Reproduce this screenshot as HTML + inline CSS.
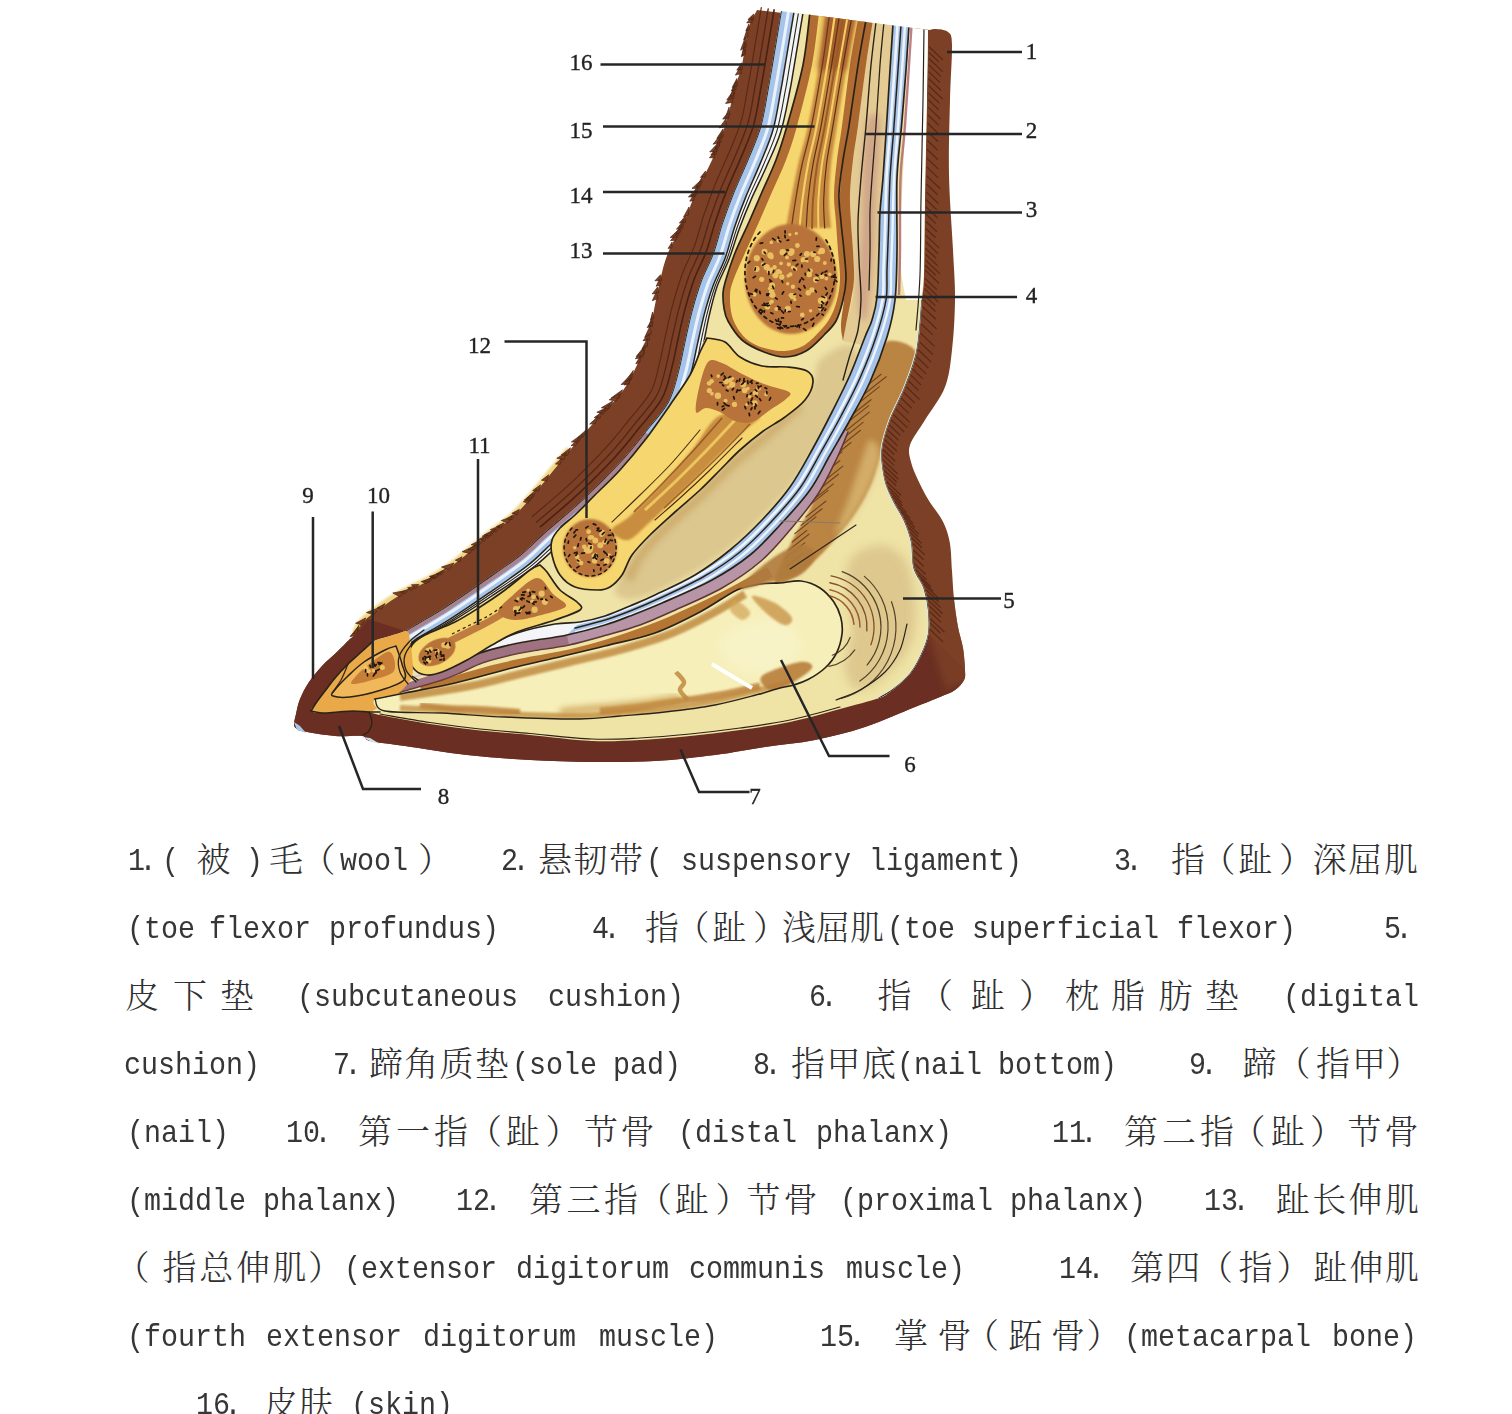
<!DOCTYPE html>
<html lang="zh-CN">
<head>
<meta charset="utf-8">
<title>牛蹄矢状切面</title>
<style>
html,body{margin:0;padding:0;background:#fff;}
body{width:1512px;height:1414px;position:relative;overflow:hidden;}
#fig{position:absolute;left:0;top:0;width:1512px;height:1414px;}
#legend{position:absolute;left:0;top:0;width:1512px;height:1414px;color:#303030;}
.ln{position:absolute;left:0;margin:0;width:1512px;height:0;}
.ln span{position:absolute;white-space:pre;line-height:40px;}
.a{color:#363636;font-family:"Liberation Mono",monospace;font-size:32px;top:-28.8px;transform:scaleX(0.8853);transform-origin:0 0;}
.a i{font-style:normal;margin-left:-0.19em;}
.a b{font-weight:normal;margin-left:0.19em;}
.c{font-weight:300;font-family:"Liberation Serif","Noto Serif CJK SC",serif;font-size:34px;top:-29.5px;}
</style>
</head>
<body>
<svg id="fig" viewBox="0 0 1512 1414" width="1512" height="1414">
<defs>
<filter id="b0" x="-20%" y="-20%" width="140%" height="140%"><feGaussianBlur stdDeviation="0.7"/></filter>
<filter id="b1" x="-20%" y="-20%" width="140%" height="140%"><feGaussianBlur stdDeviation="1.3"/></filter>
<filter id="b2" x="-30%" y="-30%" width="160%" height="160%"><feGaussianBlur stdDeviation="3"/></filter>
<filter id="b3" x="-30%" y="-30%" width="160%" height="160%"><feGaussianBlur stdDeviation="5"/></filter>
<filter id="b4" x="-40%" y="-40%" width="180%" height="180%"><feGaussianBlur stdDeviation="8"/></filter>
<filter id="bl" x="-5%" y="-5%" width="110%" height="110%"><feGaussianBlur stdDeviation="0.45"/></filter>
<filter id="ball" x="0" y="0" width="100%" height="100%" filterUnits="userSpaceOnUse"><feGaussianBlur stdDeviation="0.75"/></filter>
<clipPath id="cin"><path d="M781 11C779.5 20 774.2 52.2 772 65C769.8 77.8 769.9 77.8 768 88C766.1 98.2 763.9 114.2 760.6 126C757.3 137.8 752.5 148 748 159C743.5 170 738 181.4 733.7 192C729.4 202.6 725.9 212.3 722.4 222.6C718.9 232.8 716.6 243.8 713 253.5C709.4 263.2 704.5 271.6 701 281C697.5 290.4 694.7 300.2 692 310C689.3 319.8 687.3 329.7 685 340C682.7 350.3 680.8 361.7 678 372C675.2 382.3 673.5 392 668 402C662.5 412 653 422 645 432C637 442 630.5 450.7 620 462C609.5 473.3 594.5 488.3 582 500C569.5 511.7 555.3 522.8 545 532C534.7 541.2 530.5 546.7 520 555C509.5 563.3 494.5 573.3 482 582C469.5 590.7 455.3 600.3 445 607C434.7 613.7 426.7 618 420 622C413.3 626 410 628.7 405 631C400 633.3 395.5 634.2 390 636C384.5 637.8 377.2 639 372 642C366.8 645 363 650.3 359 654C355 657.7 352 660 348 664C344 668 338.8 673.5 335 678C331.2 682.5 328.2 686.8 325 691C321.8 695.2 318.3 699.7 316 703C313.7 706.3 310 709.3 311 711C312 712.7 317.5 712.8 322 713C326.5 713.2 332.8 712.3 338 712C343.2 711.7 347.8 711 353 711C358.2 711 364.5 711.3 369 712C373.5 712.7 369.8 713 380 715C390.2 717 413.3 721.4 430 724C446.7 726.6 463.3 728.7 480 730.5C496.7 732.3 511.3 733.2 530 735C548.7 736.8 573.7 740.2 592 741C610.3 741.8 623.7 740.8 640 740C656.3 739.2 673.3 737.7 690 736C706.7 734.3 723.3 732.3 740 730C756.7 727.7 773.3 725.5 790 722C806.7 718.5 825.2 713 840 709C854.8 705 870.2 701.2 879 698C887.8 694.8 887.8 693.5 893 689.5C898.2 685.5 905.3 679.6 910 674C914.7 668.4 917.9 662.3 921 655.6C924.1 648.9 927.2 641.6 928.5 634C929.8 626.4 929.2 617.7 928.5 610C927.8 602.3 926.4 595 924 588C921.6 581 916.1 575.7 914 568C911.9 560.3 913.1 549.8 911.5 542C909.9 534.2 907.6 528 904.5 521C901.4 514 896.2 506.8 893 500C889.8 493.2 886.8 488.3 885 480C883.2 471.7 881.2 460 882 450C882.8 440 886.2 430.5 890 420C893.8 409.5 900.5 398.7 905 387C909.5 375.3 914.2 364.5 917 350C919.8 335.5 920.8 312.5 922 300C923.2 287.5 923.5 291.7 924 275C924.5 258.3 924.5 229.2 925 200C925.5 170.8 926.5 128.3 927 100C927.5 71.7 927.8 41.7 928 30Z"/></clipPath>
</defs>
<g id="gall" filter="url(#ball)"><path d="M569.2 449.4C564.2 455.5 548.4 475.5 539.2 486.4C530.1 497.2 523.1 506 514.3 514.3C505.5 522.6 496 528.4 486.4 536.2C476.7 544 465.9 554 456.4 561.2C446.9 568.4 439 573.6 429.5 579.1C420 584.6 410.3 587.5 399.5 594.1C388.6 600.8 371.7 612.7 364.3 619.3C357 625.8 356.7 631.1 355.2 633.5" fill="none" stroke="#ecd070" stroke-width="7" filter="url(#b1)" opacity="0.85" stroke-linecap="butt"/>
<path d="M757 10C755.5 13.3 750.5 20.8 748 30C745.5 39.2 744.2 55.3 742 65C739.8 74.7 737.8 77.8 735 88C732.2 98.2 728.8 114.2 725 126C721.2 137.8 717.3 148 712.5 159C707.7 170 700.8 181.5 696 192C691.2 202.5 688.7 211.8 684 222C679.3 232.2 672 243.2 668 253C664 262.8 662.3 271.5 660 281C657.7 290.5 656 300.2 654 310C652 319.8 650.8 330.8 648 340C645.2 349.2 641.3 356.3 637 365C632.7 373.7 628.5 383.2 622 392C615.5 400.8 606.7 408.3 598 418C589.3 427.7 579.7 438.5 570 450C560.3 461.5 549.2 476.2 540 487C530.8 497.8 523.8 506.7 515 515C506.2 523.3 496.7 529.2 487 537C477.3 544.8 466.5 554.8 457 562C447.5 569.2 439.5 574.5 430 580C420.5 585.5 410.8 588.3 400 595C389.2 601.7 372.3 613.5 365 620C357.7 626.5 358.7 630.7 356 634C353.3 637.3 352 637.2 349 640C346 642.8 342.5 646.7 338 651C333.5 655.3 326.8 660.8 322 666C317.2 671.2 312.7 676.5 309 682C305.3 687.5 302.2 693.7 300 699C297.8 704.3 297 709.7 296 714C295 718.3 293.8 722.5 294 725C294.2 727.5 295.7 728 297 729C298.3 730 295.7 729.8 302 731C308.3 732.2 325 735.2 335 736C345 736.8 356.2 735.2 362 736C367.8 736.8 362.8 739.3 370 741C377.2 742.7 388.8 743.7 405 746C421.2 748.3 446.2 752.7 467 755C487.8 757.3 509.2 758.8 530 760C550.8 761.2 571.2 761.8 592 762C612.8 762.2 634.5 762.2 655 761C675.5 759.8 696.7 757.3 715 755C733.3 752.7 748.3 749.5 765 747C781.7 744.5 798.3 743.3 815 740C831.7 736.7 848.3 732.5 865 727C881.7 721.5 902.5 712 915 707C927.5 702 933.3 699.8 940 697C946.7 694.2 951 692.8 955 690C959 687.2 962.3 683.3 964 680C965.7 676.7 965.2 675.3 965 670C964.8 664.7 964.2 655.2 963 648C961.8 640.8 959.5 635.2 958 627C956.5 618.8 955 608.3 954 599C953 589.7 952.7 580.5 952 571C951.3 561.5 951.3 550.3 949.7 542C948.1 533.7 946.1 528 942.6 521C939.1 514 932.6 506.8 928.5 500C924.4 493.2 920.9 486.3 918 480C915.1 473.7 912.3 467.8 911 462C909.7 456.2 907.7 452 910 445C912.3 438 919.2 429.7 925 420C930.8 410.3 940.5 398.7 945 387C949.5 375.3 950.3 364.5 952 350C953.7 335.5 954.8 316.7 955 300C955.2 283.3 954 270.8 953 250C952 229.2 949.5 200 949 175C948.5 150 949.5 121.7 950 100C950.5 78.3 952.3 56.3 952 45C951.7 33.7 950.8 34.7 948 32C945.2 29.3 938 29.3 935 29C932 28.7 930.8 29.8 930 30Z" fill="#7c4025"/>
<path d="M753.6 14.1L747.9 19.6L753.5 20ZM752 17.1L746.7 22.8L752.1 22.9ZM748.9 24L745.8 30.9L749.6 29.8ZM747.5 27.8L743.6 40.1L748 36.6ZM745.4 37.1L740.6 50.2L746.5 46.4ZM744.6 42.5L741.9 56.1L745.7 51.8ZM743.8 47.9L741.4 56.7L745.4 54.4ZM741.5 62.8L736.8 70.2L742.6 69ZM740.7 66.6L735.4 75.1L741.3 73.6ZM736.9 78.5L732.2 87.4L737.2 85.7ZM735.8 81.8L731.3 91.1L736.2 89.2ZM734.5 85.8L730.1 96.9L734.9 94.1ZM733.3 90.5L726.8 99.9L733.9 98.1ZM731.9 95.7L725.5 103.4L732.9 102.4ZM729.1 107.1L725 118.7L729.5 115.6ZM727.7 112.9L722.7 119.1L728.7 118.5ZM726.2 118.5L719.2 127.9L726.5 126.3ZM723.1 128.8L716.8 138.4L723 136.7ZM721.5 133.6L713.1 144.2L720.9 142.4ZM719.8 138.3L715 148.9L719.4 146.4ZM718.1 142.9L709.7 151.9L717.5 151ZM716.3 147.5L710.9 155L716.2 154.2ZM714.4 152.1L709.4 157.7L714.7 157.8ZM705.5 171.1L700.5 177.4L705.2 177.1ZM703 175.8L696.2 187.1L701.2 184.7ZM700.5 180.6L692 188.4L699.5 188.2ZM698.1 185.2L691.1 196.3L696.7 194.1ZM695.9 189.8L688.4 196.9L695.6 196.7ZM693.9 194.2L689.8 201.2L694.1 200.4ZM689 207L683.6 216.9L688.6 214.9ZM685.8 215.5L679.4 223.1L685.4 222.5ZM684 219.8L676.5 229.3L682.8 228ZM681.9 224.2L675.8 234.2L680.4 232.3ZM679.6 228.6L670.1 237.6L677.8 237.1ZM677.1 233.1L670.5 240.6L676.1 240.2ZM672.1 242.1L668.1 248.4L672 247.9ZM660.5 274.8L654.9 280.8L661.7 280.3ZM659.5 278.8L656.2 286.3L660.6 284.9ZM657.6 287L652.2 293.9L658.9 292.9ZM656.7 291.1L652.3 300.7L657.8 298.5ZM652.5 312.1L650.6 320L654 318.2ZM651.8 316.5L648.9 326.9L653 324ZM651.1 320.9L647.2 327.5L652.6 326.4ZM650.3 325.3L644.6 337.5L651.1 334.2ZM648.7 333.8L643 340.7L649.6 339.9ZM647.7 337.8L642 349L647.4 346.4ZM645.2 345.2L636.2 356.5L643.9 354.6ZM643.8 348.7L635.3 358.8L642.5 357.4ZM640.6 355.6L635.8 363.8L639.9 362.5ZM633.3 370.4L625.1 381.6L631.5 379.5ZM631.4 374.2L621.1 384.6L629.3 383.5ZM629.4 378.2L624 384.9L628.6 384.5ZM622.5 389.8L611.2 397.9L619 398.3ZM619.6 393.6L609.2 399.8L616.4 401ZM613.2 400.8L601.3 407.8L608.9 408.8ZM609.7 404.4L601.6 410.9L606.6 411.1ZM606.1 408L596.9 412.2L603.4 414.4ZM602.3 411.8L594.2 417.6L599.7 418.4ZM598.6 415.8L589.7 424.1L595.1 423.5ZM587 428.9L577.8 437.7L583.3 436.8ZM582.9 433.5L571.4 441.9L578.8 442ZM578.8 438.1L571 445.7L575.9 445.3ZM570.5 447.8L561.1 455.1L567.5 455.4ZM566.3 452.9L556.8 458.2L563.9 459.8ZM561.9 458.3L555.4 464L560.2 464.4ZM548.7 474.8L541.5 480.2L546.9 481.1ZM540.5 484.8L532.6 490.6L538.3 491.4ZM536.7 489.3L526.5 498.2L533 497.7ZM533.1 493.7L524.3 500L530.4 500.7ZM529.7 497.8L523.3 501.7L528.2 503.3ZM519.4 509.3L511.9 513.3L517.1 515.1ZM515.8 512.9L506.5 518.9L512 519.7ZM512.1 516.4L501.4 520.5L508 523ZM504.3 522.7L496.4 526.6L501 528.3ZM500.3 525.7L490.2 529.7L496.1 531.9ZM496.2 528.7L484.2 534.9L490.7 536ZM492.1 531.7L482.2 536.2L488 538.1ZM487.9 535L478.4 539.4L484.2 541.3ZM483.7 538.4L471.2 544.7L478.5 546.1ZM479.4 542.1L468 549.8L474.2 549.8ZM475 545.8L462.2 551.7L469.8 553.5ZM462.1 556.8L455.3 560.2L459.5 562ZM454.1 563L441.5 567L448.8 569.9ZM446.5 568.4L436.2 574L441.4 574.8ZM442.8 570.9L430.4 577.2L436.5 577.9ZM439 573.4L429.4 576.4L434.6 579ZM435.2 575.8L423.6 581.3L429.2 582.2ZM431.3 578.2L421.1 581.6L426.2 583.8ZM419 584.4L411.4 584.8L415.4 588.7ZM414.7 586.3L407.5 587.7L411.2 590.7ZM410.3 588.3L400.6 592.4L405.1 593.8ZM405.8 590.5L392.8 593L399.9 596.8ZM385 603.6L377.2 607.9L381.5 609.2ZM379.5 607.5L366.5 612.5L373.8 614.8ZM365.7 617.9L355.6 623.3L362.2 624.9ZM358.8 625.3L353.8 633.9L358.1 632.5ZM357.7 627.3L350 636.6L357.2 635.4Z" fill="#7c4025" stroke="#4a2414" stroke-width="0.7"/>
<path d="M368 619C366 621.5 359.2 630.5 356 634C352.8 637.5 352 637.2 349 640C346 642.8 342.5 646.7 338 651C333.5 655.3 326.8 660.8 322 666C317.2 671.2 312.7 676.5 309 682C305.3 687.5 302.2 693.7 300 699C297.8 704.3 297 709.7 296 714C295 718.3 293.8 722.5 294 725C294.2 727.5 295.7 728 297 729C298.3 730 295.7 729.8 302 731C308.3 732.2 325 735.2 335 736C345 736.8 356.2 735.2 362 736C367.8 736.8 362.8 739.3 370 741C377.2 742.7 388.8 743.7 405 746C421.2 748.3 446.2 752.7 467 755C487.8 757.3 509.2 758.8 530 760C550.8 761.2 571.2 761.8 592 762C612.8 762.2 634.5 762.2 655 761C675.5 759.8 696.7 757.3 715 755C733.3 752.7 748.3 749.5 765 747C781.7 744.5 798.3 743.3 815 740C831.7 736.7 848.3 732.5 865 727C881.7 721.5 902.5 712 915 707C927.5 702 933.3 699.8 940 697C946.7 694.2 951 692.8 955 690C959 687.2 962.3 683.3 964 680C965.7 676.7 964.8 671.7 965 670L928.5 634C927.2 637.6 924.1 648.9 921 655.6C917.9 662.3 914.7 668.4 910 674C905.3 679.6 898.2 685.5 893 689.5C887.8 693.5 887.8 694.8 879 698C870.2 701.2 854.8 705 840 709C825.2 713 806.7 718.5 790 722C773.3 725.5 756.7 727.7 740 730C723.3 732.3 706.7 734.3 690 736C673.3 737.7 656.3 739.2 640 740C623.7 740.8 610.3 741.8 592 741C573.7 740.2 548.7 736.8 530 735C511.3 733.2 496.7 732.3 480 730.5C463.3 728.7 446.7 726.6 430 724C413.3 721.4 390.2 717 380 715C369.8 713 373.5 712.7 369 712C364.5 711.3 358.2 711 353 711C347.8 711 343.2 711.7 338 712C332.8 712.3 326.5 713.2 322 713C317.5 712.8 312 712.7 311 711C310 709.3 313.7 706.3 316 703C318.3 699.7 321.8 695.2 325 691C328.2 686.8 331.2 682.5 335 678C338.8 673.5 344 668 348 664C352 660 355 657.7 359 654C363 650.3 366.8 645 372 642C377.2 639 384.5 637.8 390 636C395.5 634.2 402.5 631.8 405 631Z" fill="#6a2f22"/>
<clipPath id="csil"><path d="M757 10C755.5 13.3 750.5 20.8 748 30C745.5 39.2 744.2 55.3 742 65C739.8 74.7 737.8 77.8 735 88C732.2 98.2 728.8 114.2 725 126C721.2 137.8 717.3 148 712.5 159C707.7 170 700.8 181.5 696 192C691.2 202.5 688.7 211.8 684 222C679.3 232.2 672 243.2 668 253C664 262.8 662.3 271.5 660 281C657.7 290.5 656 300.2 654 310C652 319.8 650.8 330.8 648 340C645.2 349.2 641.3 356.3 637 365C632.7 373.7 628.5 383.2 622 392C615.5 400.8 606.7 408.3 598 418C589.3 427.7 579.7 438.5 570 450C560.3 461.5 549.2 476.2 540 487C530.8 497.8 523.8 506.7 515 515C506.2 523.3 496.7 529.2 487 537C477.3 544.8 466.5 554.8 457 562C447.5 569.2 439.5 574.5 430 580C420.5 585.5 410.8 588.3 400 595C389.2 601.7 372.3 613.5 365 620C357.7 626.5 358.7 630.7 356 634C353.3 637.3 352 637.2 349 640C346 642.8 342.5 646.7 338 651C333.5 655.3 326.8 660.8 322 666C317.2 671.2 312.7 676.5 309 682C305.3 687.5 302.2 693.7 300 699C297.8 704.3 297 709.7 296 714C295 718.3 293.8 722.5 294 725C294.2 727.5 295.7 728 297 729C298.3 730 295.7 729.8 302 731C308.3 732.2 325 735.2 335 736C345 736.8 356.2 735.2 362 736C367.8 736.8 362.8 739.3 370 741C377.2 742.7 388.8 743.7 405 746C421.2 748.3 446.2 752.7 467 755C487.8 757.3 509.2 758.8 530 760C550.8 761.2 571.2 761.8 592 762C612.8 762.2 634.5 762.2 655 761C675.5 759.8 696.7 757.3 715 755C733.3 752.7 748.3 749.5 765 747C781.7 744.5 798.3 743.3 815 740C831.7 736.7 848.3 732.5 865 727C881.7 721.5 902.5 712 915 707C927.5 702 933.3 699.8 940 697C946.7 694.2 951 692.8 955 690C959 687.2 962.3 683.3 964 680C965.7 676.7 965.2 675.3 965 670C964.8 664.7 964.2 655.2 963 648C961.8 640.8 959.5 635.2 958 627C956.5 618.8 955 608.3 954 599C953 589.7 952.7 580.5 952 571C951.3 561.5 951.3 550.3 949.7 542C948.1 533.7 946.1 528 942.6 521C939.1 514 932.6 506.8 928.5 500C924.4 493.2 920.9 486.3 918 480C915.1 473.7 912.3 467.8 911 462C909.7 456.2 907.7 452 910 445C912.3 438 919.2 429.7 925 420C930.8 410.3 940.5 398.7 945 387C949.5 375.3 950.3 364.5 952 350C953.7 335.5 954.8 316.7 955 300C955.2 283.3 954 270.8 953 250C952 229.2 949.5 200 949 175C948.5 150 949.5 121.7 950 100C950.5 78.3 952.3 56.3 952 45C951.7 33.7 950.8 34.7 948 32C945.2 29.3 938 29.3 935 29C932 28.7 930.8 29.8 930 30Z"/></clipPath>
<g clip-path="url(#csil)">
<path d="M975 680C974.2 674.7 971.7 656.8 970 648C968.3 639.2 966.7 635.2 965 627C963.3 618.8 960.8 603.7 960 599L928 600L930 640L945 690Z" fill="#7c4025" filter="url(#b2)" opacity="0.8"/>
</g>
<path d="M774.1 9.8C772.6 18.8 767.3 51 765.1 63.8C762.9 76.6 763 76.7 761.1 86.7C759.2 96.8 757.1 112.5 753.9 124.1C750.6 135.7 746 145.5 741.5 156.4C737.1 167.2 731.5 178.7 727.2 189.4C722.9 200.1 719.2 210.1 715.8 220.4C712.3 230.7 710 241.4 706.4 251.1C702.9 260.8 698 269 694.4 278.6C690.9 288.1 688 298.2 685.2 308.2C682.5 318.2 680.5 328.1 678.2 338.5C675.8 348.8 674 360.1 671.2 370.1C668.5 380.2 667.2 389 661.9 398.6C656.6 408.2 647.4 417.9 639.5 427.6C631.7 437.4 625.3 446 614.9 457.2C604.5 468.5 589.6 483.3 577.2 494.9C564.8 506.5 546.6 521.4 540.4 526.7" fill="none" stroke="#4a2112" stroke-width="1.6" stroke-linecap="round"/>
<path d="M768.2 8.9C766.7 17.9 761.3 50 759.2 62.8C757 75.6 757.1 75.7 755.2 85.6C753.4 95.6 751.3 111.1 748.1 122.5C744.9 133.9 740.4 143.3 736 154.1C731.6 164.9 726 176.4 721.6 187.1C717.3 197.9 713.6 208.1 710.1 218.5C706.6 228.8 704.3 239.4 700.8 249C697.2 258.7 692.4 266.9 688.8 276.5C685.3 286.1 682.2 296.5 679.5 306.6C676.7 316.7 674.7 326.8 672.3 337.1C670 347.5 668.1 358.8 665.5 368.6C662.8 378.3 661.7 386.5 656.6 395.7C651.5 405 642.5 414.3 634.8 423.9C627.2 433.5 620.8 442.1 610.5 453.2C600.2 464.3 585.5 479 573.1 490.5C560.8 502 542.6 516.9 536.5 522.2" fill="none" stroke="#56281a" stroke-width="1.4" stroke-linecap="round"/>
<path d="M761.3 7.7C759.8 16.7 754.4 48.9 752.3 61.7C750.1 74.4 750.2 74.5 748.3 84.3C746.5 94.1 744.5 109.4 741.3 120.6C738.2 131.8 733.8 140.8 729.5 151.5C725.1 162.1 719.5 173.7 715.1 184.5C710.8 195.3 706.9 205.9 703.4 216.2C700 226.6 697.8 237 694.2 246.6C690.7 256.3 685.8 264.3 682.3 274C678.7 283.7 675.5 294.5 672.7 304.8C669.9 315 667.8 325.3 665.5 335.6C663.2 345.9 661.2 357.3 658.7 366.7C656.2 376.2 655.4 383.6 650.5 392.4C645.6 401.2 636.9 410.2 629.4 419.5C621.9 428.8 615.5 437.4 605.3 448.4C595.2 459.4 580.6 474 568.4 485.4C556.1 496.8 538 511.6 531.9 516.9" fill="none" stroke="#5a2a18" stroke-width="1.2" stroke-linecap="round"/>
<path d="M929.3 47l13.3 12.6M929.2 52.7l9.3 8.9M929.1 58.8l13.3 12.6M929 65.2l11.3 10.7M928.9 71.9l10.7 10.2M928.8 78.8l11.8 11.2M928.7 85.8l13.6 13M928.6 92.9l10.3 9.8M928.5 100l9.6 9.2M928.4 107.4l11.6 11.1M928.2 115.2l10.2 9.7M928 123.5l9.5 9.1M927.9 132l9.8 9.3M927.7 140.8l9.3 8.8M927.5 149.7l10 9.5M927.3 158.6l10.6 10M927.1 167.4l10.5 10M927 176.1l12.8 12.2M926.8 184.4l10.4 9.9M926.6 192.4l11.5 10.9M926.5 200l9.9 9.4M926.4 207.3l10.7 10.2M926.3 214.5l9.1 8.6M926.2 221.7l10.3 9.7M926.1 228.7l9.1 8.6M926.1 235.6l12.7 12M926 242.2l11.8 11.2M925.9 248.6l9.9 9.4M925.9 254.6l11.4 10.8M925.8 260.4l13.7 13M925.7 265.7l9.5 9.1M925.6 270.6l13.1 12.4M925.4 278.8l11.2 10.6M925.1 284.2l11.5 10.9M924.8 289.1l13.2 12.5M924 295l11 10.4M923.5 300l11.5 11M922.9 307l12.4 11.8M922.3 315.3l13.9 13.2M921.6 324.2l10.7 10.2M920.8 333.4l13.2 12.5M919.8 342.1l12.5 11.9M918.5 350l12.2 11.6M916.9 357l11 10.5M915.1 363.4l10.7 10.2M913.1 369.6l9.3 8.8M911 375.4l9.6 9.2M908.8 381.2l9.4 8.9M906.5 387l12.7 12.1M904.1 392.8l10.3 9.8M901.5 398.4l9.8 9.3M898.8 403.9l9.4 9M896.1 409.4l13.2 12.5M893.6 414.7l13.4 12.7M891.5 420l12.4 11.7M889.6 425.2l10.4 9.9M887.9 430.2l10.2 9.7M886.4 435.2l10.5 9.9M885.1 440.1l11.3 10.7M884.1 445l9.8 9.3M883.5 450l11.2 10.7M883.3 455.1l10.3 9.8M883.5 460.4l13.8 13.1M884 465.6l13.9 13.2M884.7 470.7l11.7 11.1M885.6 475.6l10.2 9.7M887 482l13.8 13.1M888.7 487.4l10.5 10M890.7 492.1l10.8 10.2M892.9 496.7l9 8.6M895.4 501.7l10.9 10.4M898.2 506.9l11.4 10.8M901.4 512.2l11.5 10.9M904.3 517.5l10 9.5M906.8 522.7l11.5 10.9M908.8 527.8l9 8.6M910.6 532.9l10.3 9.8M912.1 538.2l9.4 9M913.3 544l11 10.4M913.9 550.5l9.2 8.7M914.2 557.3l9.1 8.7M914.7 564l10.5 10M916.1 569.9l10.2 9.7M918.5 575l11.9 11.3M921.3 579.8l11.6 11.1M924.1 584.6l12.8 12.1M926.1 589.8l12.3 11.7M927.6 595.1l12.6 12M928.7 600.6l13.4 12.7M929.6 606.2l10.9 10.4M930.2 612l10.6 10.1M930.3 618.7l13.9 13.2M930.3 623.4l9.7 9.3M930.1 629.6l12.6 12" fill="none" stroke="#4a2012" stroke-width="1.3" opacity="0.7" stroke-linecap="round"/>
<path d="M781 11C779.5 20 774.2 52.2 772 65C769.8 77.8 769.9 77.8 768 88C766.1 98.2 763.9 114.2 760.6 126C757.3 137.8 752.5 148 748 159C743.5 170 738 181.4 733.7 192C729.4 202.6 725.9 212.3 722.4 222.6C718.9 232.8 716.6 243.8 713 253.5C709.4 263.2 704.5 271.6 701 281C697.5 290.4 694.7 300.2 692 310C689.3 319.8 687.3 329.7 685 340C682.7 350.3 680.8 361.7 678 372C675.2 382.3 673.5 392 668 402C662.5 412 653 422 645 432C637 442 630.5 450.7 620 462C609.5 473.3 594.5 488.3 582 500C569.5 511.7 555.3 522.8 545 532C534.7 541.2 530.5 546.7 520 555C509.5 563.3 494.5 573.3 482 582C469.5 590.7 455.3 600.3 445 607C434.7 613.7 426.7 618 420 622C413.3 626 410 628.7 405 631C400 633.3 395.5 634.2 390 636C384.5 637.8 377.2 639 372 642C366.8 645 363 650.3 359 654C355 657.7 352 660 348 664C344 668 338.8 673.5 335 678C331.2 682.5 328.2 686.8 325 691C321.8 695.2 318.3 699.7 316 703C313.7 706.3 310 709.3 311 711C312 712.7 317.5 712.8 322 713C326.5 713.2 332.8 712.3 338 712C343.2 711.7 347.8 711 353 711C358.2 711 364.5 711.3 369 712C373.5 712.7 369.8 713 380 715C390.2 717 413.3 721.4 430 724C446.7 726.6 463.3 728.7 480 730.5C496.7 732.3 511.3 733.2 530 735C548.7 736.8 573.7 740.2 592 741C610.3 741.8 623.7 740.8 640 740C656.3 739.2 673.3 737.7 690 736C706.7 734.3 723.3 732.3 740 730C756.7 727.7 773.3 725.5 790 722C806.7 718.5 825.2 713 840 709C854.8 705 870.2 701.2 879 698C887.8 694.8 887.8 693.5 893 689.5C898.2 685.5 905.3 679.6 910 674C914.7 668.4 917.9 662.3 921 655.6C924.1 648.9 927.2 641.6 928.5 634C929.8 626.4 929.2 617.7 928.5 610C927.8 602.3 926.4 595 924 588C921.6 581 916.1 575.7 914 568C911.9 560.3 913.1 549.8 911.5 542C909.9 534.2 907.6 528 904.5 521C901.4 514 896.2 506.8 893 500C889.8 493.2 886.8 488.3 885 480C883.2 471.7 881.2 460 882 450C882.8 440 886.2 430.5 890 420C893.8 409.5 900.5 398.7 905 387C909.5 375.3 914.2 364.5 917 350C919.8 335.5 920.8 312.5 922 300C923.2 287.5 923.5 291.7 924 275C924.5 258.3 924.5 229.2 925 200C925.5 170.8 926.5 128.3 927 100C927.5 71.7 927.8 41.7 928 30Z" fill="#efe3a6"/>
<g clip-path="url(#cin)">
<path d="M909 24C908.5 36.7 907 74.8 906 100C905 125.2 904 153.3 903 175C902 196.7 900.3 214.2 900 230C899.7 245.8 900 258.3 901 270C902 281.7 905.2 295 906 300L921 300C921.5 295 923.3 286.7 924 270C924.7 253.3 924.5 228.3 925 200C925.5 171.7 926.3 128.7 927 100C927.7 71.3 928.7 40 929 28Z" fill="#ffffff"/>
<path d="M850 345C856.7 346.7 861.7 359.2 860 370C858.3 380.8 847.5 396.7 840 410C832.5 423.3 823.3 437.2 815 450C806.7 462.8 799.2 475.3 790 487C780.8 498.7 770 509.8 760 520C750 530.2 741.7 538.8 730 548C718.3 557.2 705 566.7 690 575C675 583.3 652.5 595.2 640 598C627.5 600.8 616.7 598.3 615 592C613.3 585.7 622.5 571.2 630 560C637.5 548.8 648.3 536.7 660 525C671.7 513.3 686.7 502.5 700 490C713.3 477.5 725.8 462.2 740 450C754.2 437.8 773 427.8 785 417C797 406.2 806.2 394.5 812 385C817.8 375.5 813.7 366.7 820 360C826.3 353.3 843.3 343.3 850 345Z" fill="#dcc78e" filter="url(#b2)"/>
<path d="M850 560C855.3 551.7 870.8 545 880 545C889.2 545 899.2 550.8 905 560C910.8 569.2 913.8 586.7 915 600C916.2 613.3 916.2 628 912 640C907.8 652 898.7 663.7 890 672C881.3 680.3 867.5 690.3 860 690C852.5 689.7 846.3 680 845 670C843.7 660 851.5 642.5 852 630C852.5 617.5 848.3 606.7 848 595C847.7 583.3 844.7 568.3 850 560Z" fill="#dcc58c" filter="url(#b3)" opacity="0.9"/>
<path d="M800 405C795 409.5 780.8 422.5 770 432C759.2 441.5 746.7 451.3 735 462C723.3 472.7 711.7 485 700 496C688.3 507 675 518 665 528C655 538 646.2 547.3 640 556C633.8 564.7 630 576 628 580" fill="none" stroke="#c9a463" stroke-width="10" filter="url(#b2)" opacity="0.7"/>
<path d="M886 342C894.3 338.2 912.3 344.3 916 352C919.7 359.7 911.8 376.7 908 388C904.2 399.3 897.3 409.7 893 420C888.7 430.3 885.5 439.7 882 450C878.5 460.3 876.3 471.7 872 482C867.7 492.3 863 501.5 856 512C849 522.5 838.7 535.3 830 545C821.3 554.7 813.2 563.3 804 570C794.8 576.7 777.3 589.2 775 585C772.7 580.8 783.8 558.3 790 545C796.2 531.7 805.7 519.2 812 505C818.3 490.8 822 475.5 828 460C834 444.5 841.7 426.2 848 412C854.3 397.8 859.7 386.7 866 375C872.3 363.3 877.7 345.8 886 342Z" fill="#b67c3a" filter="url(#b1)" opacity="0.92"/>
<path d="M870 440C873.3 438.3 880.3 446.7 880 455C879.7 463.3 873 479.2 868 490C863 500.8 855.5 512.5 850 520C844.5 527.5 835.3 538.3 835 535C834.7 531.7 843.8 511.7 848 500C852.2 488.3 856.3 475 860 465C863.7 455 866.7 441.7 870 440Z" fill="#d9b872" filter="url(#b2)" opacity="0.8"/>
<path d="M858.9 392l22.2 -17.7M856.4 400.3l29.7 -23.6M851.6 408.7l27.8 -22.1M849.2 417l21.8 -17.3M843.9 425.3l24.8 -19.7M842.2 433.7l27.1 -21.6M838.5 442l24.6 -19.6M835.4 450.3l25.1 -20M830.6 458.7l20.4 -16.2M823 467l19.1 -15.2M821.4 475.3l18.4 -14.6M820.7 483.7l22.2 -17.6M815.9 492l22.4 -17.8M812.7 500.3l20.6 -16.4M805 508.7l23.1 -18.3M805.9 517l19.9 -15.8M801.1 525.3l20.9 -16.6M794.7 533.7l21.2 -16.8M792.2 542l14.5 -11.5M788.7 550.3l20.2 -16.1M784.8 558.7l19.9 -15.8M785.9 567l17.1 -13.6" fill="none" stroke="#5e3418" stroke-width="1.1" opacity="0.8" stroke-linecap="round"/>
<path d="M873 20C871.8 27.5 868.5 47.3 866 65C863.5 82.7 860.2 110.2 858 126C855.8 141.8 854.3 148.7 853 160C851.7 171.3 850.3 183.7 850 194C849.7 204.3 850.5 212.5 851 222C851.5 231.5 852.5 241.5 853 251C853.5 260.5 854.2 270.8 854 279C853.8 287.2 853.3 292.3 852 300C850.7 307.7 847.5 318.2 846 325C844.5 331.8 843.5 338.3 843 341L862 345C863.7 340.8 869.5 328 872 320C874.5 312 875.8 308.7 877 297C878.2 285.3 878.5 264.2 879 250C879.5 235.8 879.2 224 880 212C880.8 200 882.7 192.3 884 178C885.3 163.7 886.5 151.7 888 126C889.5 100.3 892.2 41 893 24Z" fill="#e4cb94"/>
<path d="M862 20C861 27.5 858.3 47.3 856 65C853.7 82.7 850.2 110.2 848 126C845.8 141.8 844.3 148.7 843 160C841.7 171.3 840.3 183.7 840 194C839.7 204.3 840.3 212.5 841 222C841.7 231.5 843.2 241.5 844 251C844.8 260.5 846 270.8 846 279C846 287.2 844.8 292.3 844 300C843.2 307.7 841.2 318.2 841 325C840.8 331.8 842.7 338.3 843 341L843 341C843.5 338.3 844.7 331.8 846 325C847.3 318.2 849.7 307.7 851 300C852.3 292.3 853.7 287.2 854 279C854.3 270.8 853.5 260.5 853 251C852.5 241.5 851.5 231.5 851 222C850.5 212.5 849.7 204.3 850 194C850.3 183.7 851.7 171.3 853 160C854.3 148.7 855.8 141.8 858 126C860.2 110.2 863.5 82.7 866 65C868.5 47.3 871.8 27.5 873 20Z" fill="#a9662e"/>
<path d="M868 120C870.8 113.7 878.7 108.7 880 122C881.3 135.3 877.3 175.3 876 200C874.7 224.7 873.7 250 872 270C870.3 290 868.3 315 866 320C863.7 325 858.7 316.7 858 300C857.3 283.3 861.2 243.3 862 220C862.8 196.7 862 176.7 863 160C864 143.3 865.2 126.3 868 120Z" fill="#c99a86" filter="url(#b2)" opacity="0.75"/>
<path d="M876 22C875.2 29.2 872.7 47.7 871 65C869.3 82.3 867.7 107.2 866 126C864.3 144.8 862.3 162 861 178C859.7 194 858.3 208.3 858 222C857.7 235.7 858.5 247 859 260C859.5 273 861.2 288.3 861 300C860.8 311.7 859.8 320.8 858 330C856.2 339.2 852.5 346.7 850 355C847.5 363.3 844.2 375.8 843 380" fill="none" stroke="#2b2418" stroke-width="1.4" stroke-linecap="round"/>
<path d="M884 22C883.3 29.2 881.3 47.7 880 65C878.7 82.3 877.3 107.2 876 126C874.7 144.8 873 163.7 872 178C871 192.3 870.3 200 870 212C869.7 224 870.2 237 870 250C869.8 263 869.2 283.3 869 290" fill="none" stroke="#2b2418" stroke-width="1.3" stroke-linecap="round"/>
<path d="M770 572C762 576.3 738.2 589.8 722 598C705.8 606.2 686.7 615 673 621C659.3 627 651 630 640 634C629 638 618.8 641.5 607 645C595.2 648.5 581.5 652.2 569 655C556.5 657.8 544.3 659.5 532 662C519.7 664.5 507.7 666.8 495 670C482.3 673.2 468.3 677.7 456 681C443.7 684.3 426.8 688.5 421 690" fill="none" stroke="#b47632" stroke-width="11" filter="url(#b0)"/>
<path d="M845 430C842.5 434.2 835.8 445 830 455C824.2 465 818.3 478.3 810 490C801.7 501.7 790 514.2 780 525C770 535.8 761.3 545.8 750 555C738.7 564.2 726.7 572 712 580C697.3 588 675.7 597 662 603C648.3 609 639.5 612.3 630 616C620.5 619.7 615.5 621.8 605 625C594.5 628.2 579.5 632.3 567 635C554.5 637.7 540.3 639.2 530 641C519.7 642.8 513.3 644 505 646C496.7 648 487.5 650.2 480 653C472.5 655.8 466.7 659.8 460 663C453.3 666.2 448.3 668.8 440 672C431.7 675.2 419.2 679 410 682C400.8 685 389.2 688.7 385 690L372 700C374.2 699.5 378.5 698.8 385 697C391.5 695.2 401.5 691.8 411 689C420.5 686.2 433.5 682.8 442 680C450.5 677.2 455.3 674.8 462 672C468.7 669.2 474.5 665.7 482 663C489.5 660.3 498.7 658 507 656C515.3 654 521.7 652.8 532 651C542.3 649.2 556.5 647.7 569 645C581.5 642.3 595.2 638.3 607 635C618.8 631.7 629 629 640 625C651 621 659.3 617.2 673 611C686.7 604.8 707.3 596.3 722 588C736.7 579.7 749.7 570.7 761 561C772.3 551.3 780.5 541.2 790 530C799.5 518.8 810.2 506 818 494C825.8 482 832 468.3 837 458C842 447.7 846.2 436.3 848 432Z" fill="#b795a6"/>
<path d="M777.5 522.5C772.6 527.5 759 543.2 747.8 552.3C736.6 561.3 724.9 569 710.3 576.9C695.8 584.8 674.2 593.8 660.6 599.8C647 605.8 638.2 609.1 628.7 612.7C619.3 616.4 614.4 618.5 604 621.6C593.6 624.8 578.7 628.9 566.3 631.6C553.8 634.2 539.7 635.7 529.4 637.6C519 639.4 512.6 640.6 504.2 642.6C495.7 644.6 486.4 646.9 478.8 649.7C471.1 652.6 465.2 656.7 458.5 659.8C451.8 663 447 665.6 438.8 668.7C430.5 671.9 418 675.7 408.9 678.7C399.8 681.7 388.1 685.3 383.9 686.7" fill="none" stroke="#d9c3cf" stroke-width="2.2" stroke-linecap="round"/>
<path d="M848 432C846.2 436.3 842 447.7 837 458C832 468.3 825.8 482 818 494C810.2 506 799.5 518.8 790 530C780.5 541.2 772.3 551.3 761 561C749.7 570.7 736.7 579.7 722 588C707.3 596.3 686.7 604.8 673 611C659.3 617.2 651 621 640 625C629 629 618.8 631.7 607 635C595.2 638.3 581.5 642.3 569 645C556.5 647.7 542.3 649.2 532 651C521.7 652.8 515.3 654 507 656C498.7 658 489.5 660.3 482 663C474.5 665.7 468.7 669.2 462 672C455.3 674.8 450.5 677.2 442 680C433.5 682.8 420.5 686.2 411 689C401.5 691.8 391.5 695.2 385 697C378.5 698.8 374.2 699.5 372 700" fill="none" stroke="#5e3434" stroke-width="1.5" stroke-linecap="round"/>
<path d="M567 635C560.8 636 540.3 639.2 530 641C519.7 642.8 513.3 644 505 646C496.7 648 487.5 650.2 480 653C472.5 655.8 466.7 659.8 460 663C453.3 666.2 448.3 668.8 440 672C431.7 675.2 419.2 679 410 682C400.8 685 389.2 688.7 385 690L372 700C374.2 699.5 378.5 698.8 385 697C391.5 695.2 401.5 691.8 411 689C420.5 686.2 433.5 682.8 442 680C450.5 677.2 455.3 674.8 462 672C468.7 669.2 474.5 665.7 482 663C489.5 660.3 498.7 658 507 656C515.3 654 521.7 652.8 532 651C542.3 649.2 562.8 646 569 645Z" fill="#8a5560" opacity="0.55"/>
<path d="M893 24C892.5 31.7 891.1 53 890 70C888.9 87 887.7 108 886.5 126C885.3 144 884.1 163.7 883 178C881.9 192.3 880.7 200 880 212C879.3 224 879.5 235.8 879 250C878.5 264.2 878.2 285.3 877 297C875.8 308.7 874 313.3 872 320C870 326.7 868.7 327.8 865 337C861.3 346.2 855.5 362.5 850 375C844.5 387.5 838.3 399.5 832 412C825.7 424.5 819 437.5 812 450C805 462.5 798.3 475.3 790 487C781.7 498.7 772 509.5 762 520C752 530.5 741.2 540.8 730 550C718.8 559.2 707.5 567.5 695 575C682.5 582.5 665.8 589.8 655 595C644.2 600.2 638.3 602.5 630 606C621.7 609.5 613.3 613.3 605 616C596.7 618.7 588.3 620.7 580 622C571.7 623.3 565.5 622.2 555 624C544.5 625.8 529.5 629 517 633C504.5 637 490.3 643.5 480 648C469.7 652.5 461.7 656.3 455 660C448.3 663.7 442.5 668.3 440 670L440 672C443.3 670.5 453.3 666.2 460 663C466.7 659.8 472.5 655.8 480 653C487.5 650.2 496.7 648 505 646C513.3 644 519.7 642.8 530 641C540.3 639.2 554.5 637.7 567 635C579.5 632.3 594.5 628.2 605 625C615.5 621.8 620.5 619.7 630 616C639.5 612.3 648.3 609 662 603C675.7 597 697.3 588 712 580C726.7 572 738.7 564.2 750 555C761.3 545.8 770 535.8 780 525C790 514.2 801.7 501.7 810 490C818.3 478.3 823.3 466.7 830 455C836.7 443.3 843.3 432.2 850 420C856.7 407.8 863.8 395.8 870 382C876.2 368.2 882.8 350.7 887 337C891.2 323.3 893.3 314.5 895 300C896.7 285.5 896.7 270.3 897 250C897.3 229.7 896.2 198.7 897 178C897.8 157.3 900 144 901.5 126C903 108 904.8 86.7 906 70C907.2 53.3 908.5 33.3 909 26Z" fill="#a6c4ea"/>
<path d="M580 622C575.8 622.3 565.5 622.2 555 624C544.5 625.8 529.5 629 517 633C504.5 637 490.3 643.5 480 648C469.7 652.5 461.7 656.3 455 660C448.3 663.7 442.5 668.3 440 670L440 672C443.3 670.5 453.3 666.2 460 663C466.7 659.8 472.5 655.8 480 653C487.5 650.2 496.7 648 505 646C513.3 644 519.7 642.8 530 641C540.3 639.2 560.8 636 567 635Z" fill="#f3f5f8"/>
<path d="M897.5 24.8C897 32.3 895.7 52.9 894.5 69.8C893.3 86.6 891.8 107.7 890.5 125.7C889.2 143.8 887.4 160.5 886.5 177.8C885.6 195.2 885.5 214.5 885 229.9C884.5 245.2 883.9 258.3 883.5 269.9C883.1 281.5 884.4 288.4 882.5 299.4C880.7 310.4 877 323 872.7 335.9C868.4 348.8 862.6 363.5 856.8 376.6C851 389.7 844.4 402.1 837.9 414.4C831.4 426.6 824.8 438.3 818 450.3C811.2 462.2 805.4 474.4 797.2 486C788.9 497.5 778.3 509.1 768.4 519.6C758.6 530.2 749 540.2 737.8 549.3C726.6 558.3 714.8 566.2 701.3 574C687.7 581.7 668.6 590.2 656.5 595.8C644.4 601.5 637.5 604.3 628.7 607.7C620 611.2 613.1 613.8 604 616.7C594.9 619.5 579.1 623.3 574.1 624.6" fill="none" stroke="#eef4fc" stroke-width="2.6" stroke-linecap="round"/>
<path d="M905 25.3C904.5 32.8 903.2 53.4 902 70.3C900.8 87.1 899.3 108.3 898 126.3C896.7 144.3 894.9 160.9 894 178.2C893.1 195.5 893 214.8 892.5 230.1C892 245.5 891.4 258.4 891 270.1C890.6 281.9 891.8 289.3 889.9 300.6C888.1 312 884.2 325.1 879.8 338.3C875.4 351.4 869.5 366.4 863.7 379.6C857.8 392.9 851.1 405.5 844.5 417.9C838 430.3 831.4 441.9 824.5 454C817.6 466.1 811.7 478.5 803.3 490.3C794.8 502.1 784 513.9 773.9 524.7C763.8 535.5 754 545.8 742.5 555.1C731 564.4 718.8 572.6 705 580.5C691.2 588.4 671.9 596.9 659.7 602.6C647.4 608.3 640.4 611.2 631.5 614.7C622.6 618.3 615.4 621 606.2 623.8C596.9 626.7 581.1 630.5 576 631.9" fill="none" stroke="#eef4fc" stroke-width="2.4" stroke-linecap="round"/>
<path d="M901 25C900.5 32.5 899.2 53.2 898 70C896.8 86.8 895.3 108 894 126C892.7 144 890.9 160.7 890 178C889.1 195.3 889 214.7 888.5 230C888 245.3 887.4 258.3 887 270C886.6 281.7 887.8 288.8 886 300C884.2 311.2 880.3 324 876 337C871.7 350 865.8 364.8 860 378C854.2 391.2 847.5 403.7 841 416C834.5 428.3 827.8 440 821 452C814.2 464 808.3 476.3 800 488C791.7 499.7 781 511.3 771 522C761 532.7 751.3 542.8 740 552C728.7 561.2 716.7 569.2 703 577C689.3 584.8 670.2 593.3 658 599C645.8 604.7 638.8 607.5 630 611C621.2 614.5 614.2 617.2 605 620C595.8 622.8 580 626.7 575 628" fill="none" stroke="#2b2418" stroke-width="1.5" stroke-linecap="round"/>
<path d="M893 24C892.5 31.7 891.1 53 890 70C888.9 87 887.7 108 886.5 126C885.3 144 884.1 163.7 883 178C881.9 192.3 880.7 200 880 212C879.3 224 879.5 235.8 879 250C878.5 264.2 878.2 285.3 877 297C875.8 308.7 874 313.3 872 320C870 326.7 868.7 327.8 865 337C861.3 346.2 855.5 362.5 850 375C844.5 387.5 838.3 399.5 832 412C825.7 424.5 819 437.5 812 450C805 462.5 798.3 475.3 790 487C781.7 498.7 772 509.5 762 520C752 530.5 741.2 540.8 730 550C718.8 559.2 707.5 567.5 695 575C682.5 582.5 665.8 589.8 655 595C644.2 600.2 638.3 602.5 630 606C621.7 609.5 613.3 613.3 605 616C596.7 618.7 588.3 620.7 580 622C571.7 623.3 565.5 622.2 555 624C544.5 625.8 529.5 629 517 633C504.5 637 490.3 643.5 480 648C469.7 652.5 461.7 656.3 455 660C448.3 663.7 442.5 668.3 440 670" fill="none" stroke="#2b2418" stroke-width="1.7" stroke-linecap="round"/>
<path d="M909 26C908.5 33.3 907.2 53.3 906 70C904.8 86.7 903 108 901.5 126C900 144 897.8 157.3 897 178C896.2 198.7 897.3 229.7 897 250C896.7 270.3 896.7 285.5 895 300C893.3 314.5 891.2 323.3 887 337C882.8 350.7 876.2 368.2 870 382C863.8 395.8 856.7 407.8 850 420C843.3 432.2 836.7 443.3 830 455C823.3 466.7 818.3 478.3 810 490C801.7 501.7 790 514.2 780 525C770 535.8 761.3 545.8 750 555C738.7 564.2 726.7 572 712 580C697.3 588 675.7 597 662 603C648.3 609 639.5 612.3 630 616C620.5 619.7 615.5 621.8 605 625C594.5 628.2 579.5 632.3 567 635C554.5 637.7 540.3 639.2 530 641C519.7 642.8 513.3 644 505 646C496.7 648 487.5 650.2 480 653C472.5 655.8 466.7 659.8 460 663C453.3 666.2 443.3 670.5 440 672" fill="none" stroke="#2b2418" stroke-width="1.7" stroke-linecap="round"/>
<path d="M911.5 26C910.4 42.7 906.8 100.7 905 126C903.2 151.3 901.3 157.3 900.5 178C899.7 198.7 900.2 230.5 900 250C899.8 269.5 899.2 287.5 899 295" fill="none" stroke="#b06a70" stroke-width="2.4" opacity="0.85"/>
<path d="M924 28C923.8 40 923.5 71.3 923 100C922.5 128.7 921.5 170.8 921 200C920.5 229.2 920.8 253.3 920 275C919.2 296.7 916.7 320.8 916 330" fill="none" stroke="#2b2418" stroke-width="1.2" stroke-linecap="round"/>
<path d="M781 11C779.5 20 774.2 52.2 772 65C769.8 77.8 769.9 77.8 768 88C766.1 98.2 763.9 114.2 760.6 126C757.3 137.8 752.5 148 748 159C743.5 170 738 181.4 733.7 192C729.4 202.6 725.9 212.3 722.4 222.6C718.9 232.8 716.6 243.8 713 253.5C709.4 263.2 704.5 271.6 701 281C697.5 290.4 694.7 300.2 692 310C689.3 319.8 687.3 329.7 685 340C682.7 350.3 680.8 361.7 678 372C675.2 382.3 673.5 392 668 402C662.5 412 653 422 645 432C637 442 630.5 450.7 620 462C609.5 473.3 594.5 488.3 582 500C569.5 511.7 555.3 522.8 545 532C534.7 541.2 530.5 546.7 520 555C509.5 563.3 494.5 573.3 482 582C469.5 590.7 455.3 600.3 445 607C434.7 613.7 426.7 618 420 622C413.3 626 407.5 629.5 405 631L411.7 642.1C414.2 640.6 420 637.2 426.7 633.1C433.4 629.1 441.6 624.7 452 617.9C462.5 611.2 476.7 601.5 489.4 592.7C502.1 583.9 517.4 573.7 528.1 565.2C538.8 556.7 543.2 551 553.6 541.7C564.1 532.4 578.2 521.3 590.9 509.5C603.5 497.7 618.8 482.4 629.5 470.8C640.2 459.3 646.8 450.5 655.2 440.1C663.5 429.7 673.5 419 679.4 408.3C685.3 397.5 687.5 386.3 690.5 375.4C693.6 364.5 695.3 353.2 697.7 342.9C700 332.5 702 323 704.5 313.4C707.1 303.8 709.7 294.8 713.2 285.5C716.6 276.3 721.6 267.8 725.2 258C728.8 248.2 731.3 236.9 734.7 226.7C738.1 216.6 741.5 207.3 745.8 196.9C750 186.4 755.5 175.1 760 163.9C764.6 152.7 769.7 141.8 773.1 129.5C776.6 117.3 778.8 100.8 780.8 90.4C782.7 80 782.6 80 784.8 67.2C787 54.3 792.3 22.1 793.8 13.1Z" fill="#a6c4ea"/>
<path d="M793.8 13.1C792.3 22.1 787 54.3 784.8 67.2C782.6 80 782.7 80 780.8 90.4C778.8 100.8 776.6 117.3 773.1 129.5C769.7 141.8 764.6 152.7 760 163.9C755.5 175.1 750 186.4 745.8 196.9C741.5 207.3 738.1 216.6 734.7 226.7C731.3 236.9 728.8 248.2 725.2 258C721.6 267.8 716.6 276.3 713.2 285.5C709.7 294.8 707.1 303.8 704.5 313.4C702 323 700 332.5 697.7 342.9C695.3 353.2 693.6 364.5 690.5 375.4C687.5 386.3 685.3 397.5 679.4 408.3C673.5 419 663.5 429.7 655.2 440.1C646.8 450.5 640.2 459.3 629.5 470.8C618.8 482.4 603.5 497.7 590.9 509.5C578.2 521.3 564.1 532.4 553.6 541.7C543.2 551 538.8 556.7 528.1 565.2C517.4 573.7 502.1 583.9 489.4 592.7C476.7 601.5 462.5 611.2 452 617.9C441.6 624.7 433.4 629.1 426.7 633.1C420 637.2 414.2 640.6 411.7 642.1L412.2 643C414.8 641.6 420.8 638.6 427.7 634.9C434.6 631.1 443 626.9 453.7 620.4C464.3 614 478.8 604.5 491.7 596C504.6 587.4 520.2 577.4 531.2 569.1C542.2 560.8 546.9 555.3 557.6 546.2C568.4 537.1 582.7 526.3 595.6 514.6C608.6 503 624.4 487.9 635.4 476.3C646.4 464.7 652.9 455.8 661.4 445.1C669.9 434.4 680.4 423.4 686.4 412.1C692.4 400.8 694.4 388.6 697.3 377.3C700.1 366 701.5 354.6 703.5 344.2C705.5 333.8 707.1 324.3 709.4 314.7C711.6 305.2 713.7 296.1 716.9 286.9C720.2 277.7 725.2 269.1 729 259.3C732.7 249.6 735.7 238.4 739.5 228.3C743.2 218.3 746.8 209.4 751.3 199.1C755.8 188.8 761.6 177.8 766.5 166.5C771.4 155.3 777 144.1 780.8 131.7C784.7 119.3 787.5 102.5 789.6 92C791.8 81.5 791.5 81.6 793.7 68.7C795.9 55.8 801.2 23.6 802.7 14.6Z" fill="#f2f5f7"/>
<path d="M645 432C640.8 437 630.5 450.7 620 462C609.5 473.3 594.5 488.3 582 500C569.5 511.7 555.3 522.8 545 532C534.7 541.2 530.5 546.7 520 555C509.5 563.3 494.5 573.3 482 582C469.5 590.7 455.3 600.3 445 607C434.7 613.7 426.7 618 420 622C413.3 626 407.5 629.5 405 631L407.6 635.3C410.1 633.8 415.9 630.3 422.6 626.3C429.3 622.3 437.3 617.9 447.7 611.2C458.1 604.5 472.3 594.8 484.8 586.1C497.4 577.4 512.5 567.3 523.1 558.9C533.7 550.5 537.9 545 548.3 535.7C558.7 526.5 572.9 515.4 585.4 503.7C598 491.9 613.1 476.8 623.7 465.4C634.2 454 644.7 440.2 648.9 435.1Z" fill="#a98290"/>
<path d="M788.4 12.2C786.9 21.2 781.6 53.4 779.4 66.2C777.2 79.1 777.3 79.1 775.4 89.4C773.4 99.7 771.2 116 767.8 128C764.4 140.1 759.5 150.7 754.9 161.8C750.4 173 744.9 184.3 740.7 194.8C736.4 205.3 732.9 214.8 729.5 225C726.1 235.2 723.6 246.3 720 256.1C716.5 265.9 711.5 274.3 708 283.6C704.6 292.9 701.9 302.3 699.2 312C696.6 321.6 694.7 331.3 692.3 341.7C690 352 688.2 363.3 685.2 374C682.3 384.6 680.3 395.2 674.6 405.6C668.8 416.1 659 426.4 650.9 436.7C642.7 446.9 636.1 455.6 625.5 467.1C614.9 478.6 599.7 493.7 587.1 505.5C574.5 517.2 560.4 528.4 550 537.6C539.6 546.8 535.3 552.4 524.7 560.9C514 569.3 498.9 579.4 486.3 588.2C473.7 596.9 459.5 606.6 449.1 613.3C438.7 620 430.6 624.4 423.9 628.4C417.2 632.5 411.4 635.9 408.9 637.4" fill="none" stroke="#eaf2fc" stroke-width="3" stroke-linecap="round"/>
<path d="M781 11C779.5 20 774.2 52.2 772 65C769.8 77.8 769.9 77.8 768 88C766.1 98.2 763.9 114.2 760.6 126C757.3 137.8 752.5 148 748 159C743.5 170 738 181.4 733.7 192C729.4 202.6 725.9 212.3 722.4 222.6C718.9 232.8 716.6 243.8 713 253.5C709.4 263.2 704.5 271.6 701 281C697.5 290.4 694.7 300.2 692 310C689.3 319.8 687.3 329.7 685 340C682.7 350.3 680.8 361.7 678 372C675.2 382.3 673.5 392 668 402C662.5 412 653 422 645 432C637 442 630.5 450.7 620 462C609.5 473.3 594.5 488.3 582 500C569.5 511.7 555.3 522.8 545 532C534.7 541.2 530.5 546.7 520 555C509.5 563.3 494.5 573.3 482 582C469.5 590.7 455.3 600.3 445 607C434.7 613.7 426.7 618 420 622C413.3 626 407.5 629.5 405 631" fill="none" stroke="#2b2418" stroke-width="1.7" stroke-linecap="round"/>
<path d="M793.8 13.1C792.3 22.1 787 54.3 784.8 67.2C782.6 80 782.7 80 780.8 90.4C778.8 100.8 776.6 117.3 773.1 129.5C769.7 141.8 764.6 152.7 760 163.9C755.5 175.1 750 186.4 745.8 196.9C741.5 207.3 738.1 216.6 734.7 226.7C731.3 236.9 728.8 248.2 725.2 258C721.6 267.8 716.6 276.3 713.2 285.5C709.7 294.8 707.1 303.8 704.5 313.4C702 323 700 332.5 697.7 342.9C695.3 353.2 693.6 364.5 690.5 375.4C687.5 386.3 685.3 397.5 679.4 408.3C673.5 419 663.5 429.7 655.2 440.1C646.8 450.5 640.2 459.3 629.5 470.8C618.8 482.4 603.5 497.7 590.9 509.5C578.2 521.3 564.1 532.4 553.6 541.7C543.2 551 538.8 556.7 528.1 565.2C517.4 573.7 502.1 583.9 489.4 592.7C476.7 601.5 462.5 611.2 452 617.9C441.6 624.7 433.4 629.1 426.7 633.1C420 637.2 414.2 640.6 411.7 642.1" fill="none" stroke="#2b2418" stroke-width="1.5" stroke-linecap="round"/>
<path d="M798.3 13.9C796.8 22.9 791.4 55 789.3 67.9C787.1 80.8 787.3 80.8 785.2 91.2C783.2 101.7 780.6 118.3 777 130.6C773.3 142.9 768 154 763.3 165.2C758.5 176.5 752.9 187.6 748.5 198C744.2 208.4 740.7 217.4 737.1 227.5C733.5 237.7 730.8 248.9 727.1 258.7C723.4 268.4 718.4 277 715.1 286.2C711.7 295.5 709.4 304.5 707 314.1C704.6 323.6 702.8 333.1 700.6 343.5C698.4 353.9 696.9 365.3 693.9 376.4C691 387.5 688.8 399.1 682.9 410.2C677 421.2 666.7 432.1 658.3 442.6C649.9 453.2 643.3 462 632.5 473.6C621.6 485.1 606.1 500.3 593.3 512.1C580.4 523.8 566.2 534.8 555.6 544C545 553.1 540.5 558.7 529.6 567.1C518.8 575.5 503.3 585.7 490.5 594.3C477.8 603 463.4 612.6 452.9 619.2C442.3 625.8 434 630.1 427.2 634C420.4 637.9 414.5 641.1 411.9 642.6" fill="none" stroke="#2b2418" stroke-width="1.1" stroke-linecap="round"/>
<path d="M802.7 14.6C801.2 23.6 795.9 55.8 793.7 68.7C791.5 81.6 791.8 81.5 789.6 92C787.5 102.5 784.7 119.3 780.8 131.7C777 144.1 771.4 155.3 766.5 166.5C761.6 177.8 755.8 188.8 751.3 199.1C746.8 209.4 743.2 218.3 739.5 228.3C735.7 238.4 732.7 249.6 729 259.3C725.2 269.1 720.2 277.7 716.9 286.9C713.7 296.1 711.6 305.2 709.4 314.7C707.1 324.3 705.5 333.8 703.5 344.2C701.5 354.6 700.1 366 697.3 377.3C694.4 388.6 692.4 400.8 686.4 412.1C680.4 423.4 669.9 434.4 661.4 445.1C652.9 455.8 646.4 464.7 635.4 476.3C624.4 487.9 608.6 503 595.6 514.6C582.7 526.3 568.4 537.1 557.6 546.2C546.9 555.3 542.2 560.8 531.2 569.1C520.2 577.4 504.6 587.4 491.7 596C478.8 604.5 464.3 614 453.7 620.4C443 626.9 434.6 631.1 427.7 634.9C420.8 638.6 414.8 641.6 412.2 643" fill="none" stroke="#2b2418" stroke-width="1.5" stroke-linecap="round"/>
<path d="M810 12C808.8 20.8 806.8 46 803 65C799.2 84 791.5 110.2 787 126C782.5 141.8 780.2 149 776 160C771.8 171 766.5 181.7 762 192C757.5 202.3 753.5 211.8 749 222C744.5 232.2 738.9 243.2 735 253C731.1 262.8 727.5 274.3 725.5 281C723.5 287.7 723.2 288.5 723 293C722.8 297.5 723.2 303.3 724 308C724.8 312.7 725 315.7 728 321C731 326.3 736 334.8 742 340C748 345.2 756.8 349.2 764 352C771.2 354.8 778 357.2 785 357C792 356.8 799.5 354.7 806 351C812.5 347.3 819 340 824 335C829 330 832.8 326.8 836 321C839.2 315.2 841.3 307 843 300C844.7 293 845.8 287.2 846 279C846.2 270.8 844.8 260.5 844 251C843.2 241.5 841.8 231.5 841 222C840.2 212.5 838.7 204.3 839 194C839.3 183.7 841.3 171.3 843 160C844.7 148.7 846.5 141.8 849 126C851.5 110.2 855.2 82.7 858 65C860.8 47.3 864.7 27.5 866 20Z" fill="#b06c30"/>
<path d="M819 13C817.8 21.7 815.7 46.2 812 65C808.3 83.8 801.3 110.2 797 126C792.7 141.8 790.2 149 786 160C781.8 171 776.5 181.7 772 192C767.5 202.3 763.5 211.8 759 222C754.5 232.2 749.3 243.2 745 253C740.7 262.8 735.5 273.8 733 281C730.5 288.2 730.2 290.2 730 296C729.8 301.8 730.3 310 732 316C733.7 322 736.7 327.5 740 332C743.3 336.5 747.3 340.2 752 343C756.7 345.8 762.5 347.7 768 349C773.5 350.3 779.2 351.5 785 351C790.8 350.5 797.3 349.2 803 346C808.7 342.8 814.5 336.7 819 332C823.5 327.3 827 323.3 830 318C833 312.7 835.3 306.5 837 300C838.7 293.5 839.8 287.2 840 279C840.2 270.8 838.7 260.5 838 251C837.3 241.5 836.7 231.5 836 222C835.3 212.5 833.8 204.3 834 194C834.2 183.7 835.7 171.3 837 160C838.3 148.7 839.8 141.8 842 126C844.2 110.2 847.3 82.8 850 65C852.7 47.2 856.7 26.7 858 19Z" fill="#f6d66e"/>
<path d="M826 13C824.8 21.7 822 46.2 819 65C816 83.8 811.5 109.3 808 126C804.5 142.7 800.8 152.7 798 165C795.2 177.3 793 189.5 791 200C789 210.5 786.8 223.3 786 228L831 228C830.7 223.3 829 210.5 829 200C829 189.5 829.7 177.3 831 165C832.3 152.7 834.3 142.7 837 126C839.7 109.3 843.8 83 847 65C850.2 47 854.5 25.8 856 18Z" fill="#c88a40" filter="url(#b1)"/>
<path d="M826 10C825.3 15 823.3 30 822 40C820.7 50 818.7 65 818 70L846 70C846.8 65 849.3 49.3 851 40C852.7 30.7 855.2 18.3 856 14Z" fill="#a2582a" filter="url(#b2)" opacity="0.85"/>
<path d="M829.6 13.6C828.4 22.2 825.4 46.3 822.4 65C819.3 83.7 814.9 109.3 811.5 126C808.1 142.7 804.6 152.7 802 165C799.3 177.3 797.3 189.5 795.6 200C793.8 210.5 792.1 223.3 791.4 228" fill="none" stroke="#6a3a1a" stroke-width="1.3" stroke-linecap="round"/>
<path d="M835 14.5C833.7 22.9 830.5 46.4 827.4 65C824.3 83.6 819.9 109.3 816.7 126C813.4 142.7 810.3 152.7 807.9 165C805.5 177.3 803.8 189.5 802.4 200C801 210.5 800 223.3 799.5 228" fill="none" stroke="#f3cf66" stroke-width="2.2" stroke-linecap="round"/>
<path d="M839.5 15.2C838.2 23.5 834.7 46.5 831.6 65C828.5 83.5 824.2 109.3 821.1 126C817.9 142.7 815 152.7 812.9 165C810.7 177.3 809.2 189.5 808.1 200C807 210.5 806.6 223.3 806.2 228" fill="none" stroke="#5a3216" stroke-width="1.2" stroke-linecap="round"/>
<path d="M843.4 15.9C842 24.1 838.3 46.7 835.2 65C832.1 83.3 827.8 109.3 824.8 126C821.8 142.7 819.1 152.7 817.1 165C815.2 177.3 813.9 189.5 813 200C812.2 210.5 812.3 223.3 812.1 228" fill="none" stroke="#9a5a28" stroke-width="2" stroke-linecap="round"/>
<path d="M847.6 16.6C846.2 24.7 842.3 46.8 839.2 65C836 83.2 831.8 109.3 828.9 126C826 142.7 823.5 152.7 821.8 165C820 177.3 818.9 189.5 818.4 200C817.8 210.5 818.4 223.3 818.4 228" fill="none" stroke="#f3cf66" stroke-width="2" stroke-linecap="round"/>
<path d="M851.8 17.3C850.3 25.2 846.2 46.9 843.1 65C839.9 83.1 835.7 109.3 832.9 126C830.2 142.7 827.9 152.7 826.4 165C824.8 177.3 824 189.5 823.7 200C823.4 210.5 824.5 223.3 824.7 228" fill="none" stroke="#5a3216" stroke-width="1.2" stroke-linecap="round"/>
<ellipse cx="791" cy="279" rx="46" ry="55" fill="#b8733a" filter="url(#b1)"/>
<g fill="#f1cd6a" opacity="0.85" filter="url(#b0)"><circle cx="781.8" cy="277" r="2.7"/><circle cx="811.9" cy="289.9" r="2.6"/><circle cx="771.8" cy="301.7" r="2.1"/><circle cx="796.3" cy="233.4" r="1.7"/><circle cx="772.9" cy="295.1" r="2.7"/><circle cx="804.7" cy="259.4" r="2.4"/><circle cx="788.2" cy="275.9" r="1.8"/><circle cx="821.8" cy="250.9" r="3.2"/><circle cx="787.8" cy="308.9" r="3.1"/><circle cx="787" cy="257.4" r="1.9"/><circle cx="797.4" cy="245.5" r="2.4"/><circle cx="816" cy="279.8" r="3"/><circle cx="806.9" cy="253.9" r="3"/><circle cx="789.9" cy="234.6" r="1.6"/><circle cx="790.4" cy="274.4" r="2.1"/><circle cx="762.9" cy="264.4" r="2.1"/><circle cx="810.6" cy="310.7" r="1.8"/><circle cx="824.3" cy="298.9" r="3"/><circle cx="774.6" cy="267.1" r="2.2"/><circle cx="780.1" cy="272.3" r="2"/><circle cx="817.2" cy="259" r="3.1"/><circle cx="771.4" cy="257.1" r="2.4"/><circle cx="766.7" cy="267.2" r="3.1"/><circle cx="821" cy="308.2" r="2.6"/><circle cx="794.8" cy="299.5" r="1.7"/><circle cx="809.2" cy="274.4" r="2.8"/><circle cx="802.3" cy="259" r="1.7"/><circle cx="788.8" cy="264.4" r="2.1"/><circle cx="772.2" cy="293.6" r="2.1"/><circle cx="795.5" cy="269.1" r="1.9"/><circle cx="764.5" cy="251.7" r="3"/><circle cx="790.8" cy="252.8" r="3.1"/><circle cx="829.8" cy="274.3" r="1.8"/><circle cx="778.6" cy="240.8" r="2"/><circle cx="772.1" cy="285.5" r="3"/><circle cx="810.5" cy="270.8" r="2.3"/><circle cx="792.9" cy="267.5" r="2.1"/><circle cx="756.8" cy="258.2" r="3.1"/><circle cx="761.7" cy="279.3" r="2.6"/><circle cx="819.4" cy="252.4" r="2"/><circle cx="771.3" cy="269.6" r="2.3"/><circle cx="821.9" cy="276.5" r="2.5"/><circle cx="771.3" cy="242.4" r="1.8"/><circle cx="792.7" cy="296" r="3.1"/><circle cx="808.3" cy="292.8" r="2.8"/><circle cx="787.7" cy="283.8" r="1.7"/><circle cx="813.1" cy="254" r="3.1"/><circle cx="802.4" cy="260.7" r="1.8"/><circle cx="771.6" cy="291.7" r="2.7"/><circle cx="792.9" cy="286.8" r="2.2"/><circle cx="769.4" cy="288.4" r="1.6"/><circle cx="775.5" cy="275.3" r="3.1"/><circle cx="802.3" cy="314.9" r="2.4"/><circle cx="770.3" cy="255.3" r="3.1"/><circle cx="807" cy="261" r="1.6"/><circle cx="790.9" cy="295.3" r="2.3"/><circle cx="772" cy="294.6" r="3.1"/><circle cx="778.3" cy="271.6" r="2.7"/><circle cx="767.4" cy="306.8" r="2.8"/><circle cx="791.4" cy="251.4" r="3.2"/><circle cx="776.3" cy="308.9" r="2"/><circle cx="769.2" cy="303.4" r="2.1"/><circle cx="826.3" cy="278.6" r="1.9"/><circle cx="769.4" cy="271.2" r="2.7"/><circle cx="782.7" cy="252.2" r="3.2"/><circle cx="756.6" cy="269" r="3"/><circle cx="821" cy="300.8" r="3.2"/><circle cx="824.8" cy="263" r="1.9"/><circle cx="754.4" cy="294.4" r="2.2"/><circle cx="781.1" cy="263.3" r="1.9"/></g>
<path d="M777.7 327.6l2.7 1.1M764.9 263.7l-2.3 1.5M785 230.9l0.2 2.1M778.9 321.4l2.1 0.2M818.8 307.5l1.5 0.2M769.3 305.4l-1.9 0.6M801.4 253.6l-1.2 1.5M813.8 323.4l-1.2 2.7M788.8 327.7l-2.1 0.3M768.8 271.5l0.1 2.9M762.7 311.3l-1.9 2M815.3 290.4l1 1.7M778.7 309.1l1.7 0.4M813.6 252l1.5 0.3M795.7 260.4l-2.8 0.2M790.9 301.4l0.3 1.8M783.6 291.8l-1.4 2.2M822 296.5l2.6 1M772.6 286.1l1 2.4M764.2 252.1l1.2 1.2M825.3 287.4l1.1 1.8M834.9 279.8l2 1.8M755.5 276.3l-2.3 1.5M772.6 238.4l2.4 1.7M798.4 324.9l1.1 2.6M786.5 253.4l-2.2 1.9M755.8 289.3l-0.7 1.7M779.3 240.7l1.5 1.1M799.9 295.2l1.2 0.9M775.6 298l1.6 1.1M764.5 310.5l-0.2 1.6M755.4 267.8l-0.4 2.4M808.4 269.4l1.2 1.5M831.4 259l-0.4 2M783.5 317.9l-2 0M764 303.3l1.2 0.9M826.8 270.9l-1.8 1.1M825.2 274.8l1.3 0.7M795.6 294l-1.6 0.5M801.9 265.2l-0 1.7M771.7 281.3l-1.6 0.4M790.2 311.5l-1.8 0.2M833.4 277.2l2.8 0.5M781 322.1l-1 2.5M760.7 309.5l1.6 1.4M821.9 314.1l1.5 1M782.1 280.9l0.6 1.6M768.4 303l-1.5 0.5M796.6 306.5l2.7 0.3M756.9 289.6l-0.4 2.4M773.7 270.5l-0.5 2.1M805.2 273.3l0.3 1.5M801.6 277.9l2 1.8M816 274.5l1.9 1.2M784.8 235.4l0.4 2.2M750 293.6l2.5 0.7M815.8 280.2l2.2 0.4M780.1 327.1l2.5 1.2M819.1 246.3l-2.2 0.1M761.1 309.8l-1.6 0.3M777.7 306.3l2.5 1.4M770.9 312.7l2 1M769.8 279.6l0.8 1.3M762.6 242.9l-2.5 0.5M816.4 237.9l-0.2 2.4M778.5 318.8l-0.4 2.3M781.6 310.8l2 2.2M797.9 264.1l-1.6 1.5M762.2 305l2.7 0.4M769 293.9l-2.4 0.1M805.6 259l1.6 0M759.7 291.4l0.5 2.2M766.7 295.3l1.5 0.1M778.1 237l0.8 1.7M798.5 288.5l2 1.5M788.8 240l-1.8 0.4M803.3 318.6l-1.6 1.3M803.9 285.7l1.1 2.2M786 325.6l-1.3 1.4M793.8 269l1.2 1.1M795.5 326l1.6 0.8M800.6 279.7l-1.2 2.5M762 258.7l0.9 1.3M825.7 309.2l-0.9 1.2M821.7 305.2l0.3 2.6M786.8 249.8l1.7 0.6M749.8 261.4l-1.8 1.8M821.8 301.6l1.6 1.7M785.3 309.8l-0.1 1.9M803.7 328.6l2.2 1.8M767.5 305l-2.6 0.5M775.6 319.6l1 1.6M827.4 292.9l-1.4 2.1M833.7 275.7l-2.2 1.2M822.9 272.3l-1.5 1.8" fill="none" stroke="#22160a" stroke-width="1.7" stroke-linecap="round"/>
<path d="M760 232A45 54 0 1 0 826 240" fill="none" stroke="#22160a" stroke-width="1.7" stroke-dasharray="3.2 4" stroke-linecap="round"/>
<path d="M810 12C808.8 20.8 806.8 46 803 65C799.2 84 791.5 110.2 787 126C782.5 141.8 780.2 149 776 160C771.8 171 766.5 181.7 762 192C757.5 202.3 753.5 211.8 749 222C744.5 232.2 738.9 243.2 735 253C731.1 262.8 727.5 274.3 725.5 281C723.5 287.7 723.2 288.5 723 293C722.8 297.5 723.2 303.3 724 308C724.8 312.7 725 315.7 728 321C731 326.3 736 334.8 742 340C748 345.2 756.8 349.2 764 352C771.2 354.8 778 357.2 785 357C792 356.8 799.5 354.7 806 351C812.5 347.3 819 340 824 335C829 330 832.8 326.8 836 321C839.2 315.2 841.3 307 843 300C844.7 293 845.8 287.2 846 279C846.2 270.8 844.8 260.5 844 251C843.2 241.5 841.8 231.5 841 222C840.2 212.5 838.7 204.3 839 194C839.3 183.7 841.3 171.3 843 160C844.7 148.7 846.5 141.8 849 126C851.5 110.2 855.2 82.7 858 65C860.8 47.3 864.7 27.5 866 20" fill="none" stroke="#2b2418" stroke-width="1.7" stroke-linecap="round"/>
<path d="M707 338C711.2 336.3 719.5 338.8 725 342C730.5 345.2 733.8 353 740 357C746.2 361 754.2 364.3 762 366C769.8 367.7 779.5 366.2 787 367C794.5 367.8 802.7 368.5 807 371C811.3 373.5 813.3 377.2 813 382C812.7 386.8 809.7 394.2 805 400C800.3 405.8 792.2 411.7 785 417C777.8 422.3 769.5 426.5 762 432C754.5 437.5 747 443.7 740 450C733 456.3 726.7 463.3 720 470C713.3 476.7 707.5 483 700 490C692.5 497 683.3 504.5 675 512C666.7 519.5 657.2 527.8 650 535C642.8 542.2 636.7 548.3 632 555C627.3 561.7 625.7 569.7 622 575C618.3 580.3 614 584.5 610 587C606 589.5 603.8 590 598 590C592.2 590 581.3 589.5 575 587C568.7 584.5 563.8 580.3 560 575C556.2 569.7 553.3 560.8 552 555C550.7 549.2 550.7 544.5 552 540C553.3 535.5 556.2 532.2 560 528C563.8 523.8 569.2 520.5 575 515C580.8 509.5 587.5 502.5 595 495C602.5 487.5 611.7 479.2 620 470C628.3 460.8 636.7 450.8 645 440C653.3 429.2 662.5 415.8 670 405C677.5 394.2 685 383.8 690 375C695 366.2 697.2 358.2 700 352C702.8 345.8 702.8 339.7 707 338Z" fill="#f6d66e"/>
<path d="M716 418C708 424.3 701 439 692 450C683 461 672.3 473 662 484C651.7 495 638.3 508.3 630 516C621.7 523.7 612.3 526 612 530C611.7 534 621.7 541.3 628 540C634.3 538.7 641 530 650 522C659 514 671.3 502.3 682 492C692.7 481.7 703.5 470.3 714 460C724.5 449.7 737.3 437.3 745 430C752.7 422.7 760.8 419 760 416C759.2 413 747.3 411.7 740 412C732.7 412.3 724 411.7 716 418Z" fill="#c5853a" filter="url(#b1)" opacity="0.9"/>
<path d="M735 420C730 425.3 715 441.7 705 452C695 462.3 685 472.3 675 482C665 491.7 650 505.3 645 510" fill="none" stroke="#f1cb62" stroke-width="3" filter="url(#b0)" opacity="0.9"/>
<path d="M722 418C717 423.7 702 441 692 452C682 463 671.7 474 662 484C652.3 494 638.7 507.3 634 512" fill="none" stroke="#8a4e22" stroke-width="1.6" opacity="0.8"/>
<path d="M750 424C745 429.2 730 445 720 455C710 465 699.3 475.2 690 484C680.7 492.8 668.3 504 664 508" fill="none" stroke="#8a4e22" stroke-width="1.4" opacity="0.8"/>
<path d="M700 430C695 435.8 680 454.2 670 465C660 475.8 649.7 485.5 640 495C630.3 504.5 616.7 517.5 612 522" fill="none" stroke="#4a2a12" stroke-width="1.1" stroke-linecap="round"/>
<path d="M742 438C736.7 443.3 720.3 460 710 470C699.7 480 689.2 489.7 680 498C670.8 506.3 659.2 516.3 655 520" fill="none" stroke="#4a2a12" stroke-width="1.1" stroke-linecap="round"/>
<path d="M708 362C711.8 357.8 716.3 361 722 363C727.7 365 735 370.5 742 374C749 377.5 756.2 381 764 384C771.8 387 785.3 389.5 789 392C792.7 394.5 789.2 396 786 399C782.8 402 775.7 406.2 770 410C764.3 413.8 757.8 420.2 752 422C746.2 423.8 740.3 422.7 735 421C729.7 419.3 724.8 414.2 720 412C715.2 409.8 710 408 706 408C702 408 697.2 415.3 696 412C694.8 408.7 697 396.3 699 388C701 379.7 704.2 366.2 708 362Z" fill="#b8733a" filter="url(#b0)"/>
<g fill="#f1cd6a" opacity="0.85" filter="url(#b0)"><circle cx="729.8" cy="380.1" r="2.6"/><circle cx="732.7" cy="378.5" r="1.6"/><circle cx="709.3" cy="390.6" r="2.6"/><circle cx="747" cy="404.4" r="1.7"/><circle cx="744.7" cy="390.3" r="2.9"/><circle cx="718.2" cy="376.1" r="1.8"/><circle cx="754.8" cy="403.2" r="2.9"/><circle cx="747.9" cy="388.6" r="1.8"/><circle cx="711.9" cy="393.7" r="1.9"/><circle cx="728.3" cy="387.1" r="1.6"/><circle cx="726.1" cy="381.4" r="2.7"/><circle cx="732.2" cy="384.7" r="3.1"/><circle cx="734.5" cy="404.4" r="2.6"/><circle cx="711.6" cy="381.3" r="2.3"/><circle cx="755.5" cy="393.2" r="2.7"/><circle cx="743.2" cy="384.6" r="3"/><circle cx="717.9" cy="395.8" r="3.2"/><circle cx="709.2" cy="383.3" r="2.4"/><circle cx="758.6" cy="388.4" r="2.4"/><circle cx="725.6" cy="400.8" r="2"/><circle cx="766.1" cy="394.4" r="1.9"/><circle cx="749.6" cy="396.7" r="1.8"/></g>
<path d="M752.1 380.5l-2 1.6M755.5 403.9l0.9 1.9M726.3 405.1l2.7 0.8M717.5 402.7l-0 2.1M766.7 391.5l0.3 2.3M751.9 407.8l-0.9 1.8M730.6 376.5l-2.2 1.2M758 386l0.5 2.6M747.7 380.9l0.3 2.8M724.3 376l1.5 2.1M765 387.7l1.7 0.9M726.2 390.1l1.7 1M758 383.2l-1.6 0.2M724.5 408.4l-2.1 1.6M737.3 380.4l-0.7 1.5M719.8 382.5l2.1 0.2M755 406.4l-0 2.4M739.9 379l-0.7 2M749.1 413.3l0.5 2.3M755.5 395.5l1.9 1.7M760 411.3l-1.6 2.2M748.2 402.1l0.3 1.9M751.3 380.9l0.7 2.6M750.6 402.4l1.5 1.5M733.6 396.5l0.7 2.4M744.9 406.6l0.8 2.1M744.9 381.4l-2.3 1.8M744.1 378.7l-0.5 2.2M752.3 398.1l-1.2 2.5M740.5 390.2l-1.8 0.3M751.5 393l-1.2 1.1M711.3 375.1l0.5 1.4M733.5 388.3l-1.2 1.6M725.7 377.8l-2 2.1M743.2 383.2l-1.7 1.2M723.3 373.1l-2.1 1.8M747.3 394.8l-0.4 1.8M770.6 397.6l-1.2 2.5M759.4 398.6l1.4 1.9M724.1 402.8l1.4 1.5M722.5 385l1.3 0.8M755.4 389.7l1.4 1.4M737.5 389.9l-1 2.3M723.7 405.9l-1.4 0.7M761.2 385.9l-2.1 1.2" fill="none" stroke="#22160a" stroke-width="1.7" stroke-linecap="round"/>
<ellipse cx="590" cy="548" rx="27" ry="29" fill="#b8733a" filter="url(#b1)"/>
<g fill="#f1cd6a" opacity="0.85" filter="url(#b0)"><circle cx="609.2" cy="555.2" r="2"/><circle cx="578.7" cy="560.7" r="2.2"/><circle cx="602.4" cy="532.8" r="3"/><circle cx="594.6" cy="560.9" r="2.7"/><circle cx="606.7" cy="561.2" r="2.9"/><circle cx="577.1" cy="556.8" r="2.4"/><circle cx="600.3" cy="545.2" r="3"/><circle cx="592.3" cy="537.2" r="2"/><circle cx="574.7" cy="547.7" r="1.7"/><circle cx="588.6" cy="531.7" r="2.4"/><circle cx="589.9" cy="549.8" r="3"/><circle cx="588.6" cy="550.9" r="2.7"/><circle cx="604.5" cy="542.3" r="2.3"/><circle cx="595.8" cy="554.2" r="1.6"/><circle cx="594.7" cy="556.4" r="3.1"/><circle cx="590.5" cy="547.3" r="3"/><circle cx="595.3" cy="540.6" r="3"/><circle cx="584.3" cy="546.8" r="2.4"/><circle cx="601.5" cy="534.7" r="2.3"/><circle cx="586.7" cy="550.5" r="2.9"/><circle cx="581.2" cy="563" r="2.2"/><circle cx="590.2" cy="537.5" r="2.4"/></g>
<path d="M613 556.1l-1.6 1.2M581.1 537.5l-0.7 2.4M600.8 568.2l-0.2 1.6M595.3 556.3l-2.3 1.8M595.4 554.1l-1 2.3M594.7 557.5l2 1.5M588 561.8l1.7 0.6M610.1 556.2l1.1 2.5M603.9 551.3l1.3 1.4M586.2 538.5l0.5 2.4M593.3 523.9l2.5 1M593.7 569.9l0.3 1.5M584.5 552.8l-2.9 0.6M588.8 543.4l2.3 0.8M576 529.8l1.5 0.1M598.9 528.2l-1.6 0.2M577.5 560.2l1.3 0.9M603.3 559.2l-2.3 1.1M569.8 554.7l-1.3 1.7M611 535.1l-2.6 0.3M597.3 564.6l1.9 0.5M601.1 530.5l-2 0.9M568.6 541.1l-0.5 2.1M598.6 529.4l-1.6 1.2M597 554.8l0.5 2M603.8 551.5l1 1.3M605.9 539.2l-1 2.8M606.1 553.3l1.2 1.8M608.8 541.5l-1.3 2M578.5 543.9l-0.7 2.6M606.2 564.3l-2.2 1M579 566.4l-2.1 1.4M610.1 540l2.2 0.6M604.4 532.3l-2.1 2M577.1 553.6l-1.2 1.9M575.8 535.2l-1.9 1.9M588 526.4l-2.2 1.5M577 552.2l-2.7 0.9M591.1 546.8l-0.5 1.7M575.1 531.3l-1.2 1.6" fill="none" stroke="#22160a" stroke-width="1.7" stroke-linecap="round"/>
<path d="M572 528A26 28 0 1 0 610 530" fill="none" stroke="#22160a" stroke-width="1.5" stroke-dasharray="3 3.6" stroke-linecap="round"/>
<path d="M707 338C710 338.7 719.5 338.8 725 342C730.5 345.2 733.8 353 740 357C746.2 361 754.2 364.3 762 366C769.8 367.7 779.5 366.2 787 367C794.5 367.8 802.7 368.5 807 371C811.3 373.5 813.3 377.2 813 382C812.7 386.8 809.7 394.2 805 400C800.3 405.8 792.2 411.7 785 417C777.8 422.3 769.5 426.5 762 432C754.5 437.5 747 443.7 740 450C733 456.3 726.7 463.3 720 470C713.3 476.7 707.5 483 700 490C692.5 497 683.3 504.5 675 512C666.7 519.5 657.2 527.8 650 535C642.8 542.2 636.7 548.3 632 555C627.3 561.7 625.7 569.7 622 575C618.3 580.3 614 584.5 610 587C606 589.5 603.8 590 598 590C592.2 590 581.3 589.5 575 587C568.7 584.5 563.8 580.3 560 575C556.2 569.7 553.3 560.8 552 555C550.7 549.2 550.7 544.5 552 540C553.3 535.5 556.2 532.2 560 528C563.8 523.8 569.2 520.5 575 515C580.8 509.5 587.5 502.5 595 495C602.5 487.5 611.7 479.2 620 470C628.3 460.8 636.7 450.8 645 440C653.3 429.2 662.5 415.8 670 405C677.5 394.2 685 383.8 690 375C695 366.2 697.2 358.2 700 352C702.8 345.8 705.8 340.3 707 338" fill="none" stroke="#2b2418" stroke-width="1.7" stroke-linecap="round"/>
<path d="M540 565C542.8 565.3 543.7 567.8 547 572C550.3 576.2 555 585 560 590C565 595 573.7 598.7 577 602C580.3 605.3 583.7 607 580 610C576.3 613 565.5 616.3 555 620C544.5 623.7 527.5 627.8 517 632C506.5 636.2 500.3 640.3 492 645C483.7 649.7 475.3 655.5 467 660C458.7 664.5 448.7 669.5 442 672C435.3 674.5 431.5 675.3 427 675C422.5 674.7 418 673 415 670C412 667 409.5 661.2 409 657C408.5 652.8 409.3 648.7 412 645C414.7 641.3 417.8 638.8 425 635C432.2 631.2 445.8 626.7 455 622C464.2 617.3 471.7 612.3 480 607C488.3 601.7 496.7 596.2 505 590C513.3 583.8 524.2 574.2 530 570C535.8 565.8 537.2 564.7 540 565Z" fill="#f6d66e"/>
<path d="M537 578C543.8 577.7 548.2 589.3 553 594C557.8 598.7 567.3 602.7 566 606C564.7 609.3 553.5 611.7 545 614C536.5 616.3 522.8 620.3 515 620C507.2 619.7 498.5 616 498 612C497.5 608 505.5 601.7 512 596C518.5 590.3 530.2 578.3 537 578Z" fill="#b8733a" filter="url(#b0)"/>
<g fill="#f1cd6a" opacity="0.85" filter="url(#b0)"><circle cx="533.5" cy="596.9" r="2.4"/><circle cx="518.7" cy="609.5" r="2.9"/><circle cx="520.2" cy="607.9" r="2.2"/><circle cx="528.2" cy="590.1" r="1.7"/><circle cx="532.1" cy="601.6" r="2"/><circle cx="541.6" cy="593.7" r="3.1"/><circle cx="544.9" cy="601.8" r="3.1"/><circle cx="518" cy="598.8" r="1.7"/><circle cx="515.9" cy="608.9" r="3"/><circle cx="534.6" cy="609.7" r="3.1"/></g>
<path d="M514.7 610.8l0.5 1.6M536.2 601.9l-2.5 0.3M526.9 600.9l2.6 1.4M530 612.1l-2.6 0.8M542.4 599.2l-1.6 0.1M519.7 612.8l-2.5 0.5M524.5 606l-1.2 1.1M522 597.9l2.1 0.8M515.2 600.5l2.3 1.1M525.5 591.8l-2.7 0.6M536.9 596.4l1.3 2.4M532.4 603.4l1.7 0.8M515.6 613.6l-0.3 1.7M545.2 587.4l0.5 1.7M526 612.3l0.9 1.5M529.7 596l-1.6 0.5M550.5 596.1l1.7 1.4M520.4 598.7l1.6 1.2M527.3 613.2l2.5 0.5M521.5 594.9l2.7 0M529.8 592.3l0.6 2.8M520.9 607.2l1.6 0.7M545.7 599.5l1.3 0.9M515.7 610.6l0 1.9M520.8 608.4l-1.7 2.2M532.3 591.6l2.5 0.5" fill="none" stroke="#22160a" stroke-width="1.7" stroke-linecap="round"/>
<ellipse cx="437" cy="652" rx="20" ry="12" transform="rotate(-28 437 652)" fill="#b8733a" filter="url(#b0)"/>
<g fill="#f1cd6a" opacity="0.85" filter="url(#b0)"><circle cx="436.3" cy="656.6" r="1.7"/><circle cx="444.1" cy="645.1" r="2.9"/><circle cx="446.8" cy="646.7" r="1.6"/><circle cx="447.9" cy="645.8" r="3"/><circle cx="428.2" cy="650.6" r="2.9"/><circle cx="430.7" cy="648.9" r="2.2"/><circle cx="437.1" cy="650.9" r="2.4"/><circle cx="428.5" cy="660.7" r="2.9"/></g>
<path d="M446.6 642.9l-1.3 1.6M437 652.3l-0.2 2.3M425.6 651.1l1.8 0.6M426.4 662l1.2 0.9M440.8 651.7l-0.2 2.5M425.3 658.1l-0 1.9M424.5 656.6l2.2 1M441.5 655l2.4 1.4M449.5 642.9l0.7 2.7M436.8 649.8l-2.6 0.5M429.7 650.2l1.1 1.9M441.7 659.6l-1.8 0.4M435.8 655.5l0.9 2.1M423.1 657.9l-0 1.5M443.9 655.1l-2.6 1M423.9 662.1l1.7 1.9M430.4 656.4l-2.4 0.6M429.5 656.4l0.6 2.9M428.7 652.2l-0.8 1.5M444.1 658.3l-0.1 1.9" fill="none" stroke="#22160a" stroke-width="1.7" stroke-linecap="round"/>
<path d="M450 641C453.3 639.3 463.7 634.2 470 631C476.3 627.8 482.2 625.2 488 622C493.8 618.8 502.2 613.7 505 612" fill="none" stroke="#b8733a" stroke-width="7" filter="url(#b0)" opacity="0.9"/>
<path d="M452 634C455 632.5 464 628 470 625C476 622 482.5 619.2 488 616C493.5 612.8 500.5 607.7 503 606" fill="none" stroke="#3a2410" stroke-width="1.3" stroke-dasharray="3 3"/>
<path d="M540 565C541.2 566.2 543.7 567.8 547 572C550.3 576.2 555 585 560 590C565 595 573.7 598.7 577 602C580.3 605.3 583.7 607 580 610C576.3 613 565.5 616.3 555 620C544.5 623.7 527.5 627.8 517 632C506.5 636.2 500.3 640.3 492 645C483.7 649.7 475.3 655.5 467 660C458.7 664.5 448.7 669.5 442 672C435.3 674.5 431.5 675.3 427 675C422.5 674.7 418 673 415 670C412 667 409.5 661.2 409 657C408.5 652.8 409.3 648.7 412 645C414.7 641.3 417.8 638.8 425 635C432.2 631.2 445.8 626.7 455 622C464.2 617.3 471.7 612.3 480 607C488.3 601.7 496.7 596.2 505 590C513.3 583.8 524.2 574.2 530 570C535.8 565.8 538.3 565.8 540 565" fill="none" stroke="#2b2418" stroke-width="1.7" stroke-linecap="round"/>
<path d="M430 632C427.5 633.3 419.5 636.2 415 640C410.5 643.8 404.7 650 403 655C401.3 660 402.5 665.8 405 670C407.5 674.2 415.8 678.3 418 680" fill="none" stroke="#2b2418" stroke-width="1.4" stroke-linecap="round"/>
<path d="M372 642C366.8 645 363 650.3 359 654C355 657.7 352 660 348 664C344 668 338.8 673.5 335 678C331.2 682.5 328.2 686.8 325 691C321.8 695.2 318.3 699.7 316 703C313.7 706.3 310 709.3 311 711C312 712.7 317.5 712.8 322 713C326.5 713.2 332.8 712.3 338 712C343.2 711.7 347.8 711 353 711C358.2 711 364.5 712.8 369 712C373.5 711.2 374.8 709.3 380 706C385.2 702.7 394.7 697 400 692C405.3 687 410 682.2 412 676C414 669.8 412.3 660.7 412 655C411.7 649.3 410.7 645.8 410 642C409.3 638.2 410 633.7 408 632C406 630.3 401 631.3 398 632C395 632.7 394.3 634.3 390 636C385.7 637.7 377.2 639 372 642Z" fill="#e9a94a"/>
<path d="M396 646C393.2 643.7 390.3 647.3 385 650C379.7 652.7 370.2 657.7 364 662C357.8 666.3 353 671.2 348 676C343 680.8 336.5 687.7 334 691C331.5 694.3 330.3 695 333 696C335.7 697 342.5 697.8 350 697C357.5 696.2 369 693.8 378 691C387 688.2 400 684.5 404 680C408 675.5 403.3 669.7 402 664C400.7 658.3 398.8 648.3 396 646Z" fill="#f0b85a"/>
<path d="M390 652C386.3 650.5 377.7 658 372 662C366.3 666 359.3 672.3 356 676C352.7 679.7 349.3 683.3 352 684C354.7 684.7 365 682.2 372 680C379 677.8 391 675.7 394 671C397 666.3 393.7 653.5 390 652Z" fill="#c77f38" filter="url(#b0)"/>
<g fill="#f1cd6a" opacity="0.85" filter="url(#b0)"><circle cx="373.4" cy="670.7" r="1.8"/><circle cx="368.8" cy="671.2" r="2.1"/><circle cx="366" cy="668.3" r="2.5"/><circle cx="382.4" cy="667.5" r="2.5"/></g>
<path d="M376.3 664.5l-1.3 1.7M375.9 670.8l0.2 2M365.6 669.7l-0.1 2.1M373.5 662.9l1.2 2.5M367.4 673.9l0.1 1.9M379.2 662.5l2.7 0.6M369.9 665.3l0.7 2M378 662.3l2.2 1.9M378.3 662.8l1 1.8M379.3 669.3l-2.4 1.2M375.8 672.7l-1.8 1.9M375 673.8l-1.7 2.3" fill="none" stroke="#22160a" stroke-width="1.7" stroke-linecap="round"/>
<path d="M396 646C394.2 646.7 390.3 647.3 385 650C379.7 652.7 370.2 657.7 364 662C357.8 666.3 353 671.2 348 676C343 680.8 336.5 687.7 334 691C331.5 694.3 330.3 695 333 696C335.7 697 342.5 697.8 350 697C357.5 696.2 369 693.8 378 691C387 688.2 400 684.5 404 680C408 675.5 403.3 669.7 402 664C400.7 658.3 397 649 396 646" fill="none" stroke="#2b2418" stroke-width="1.5" stroke-linecap="round"/>
<path d="M432 630C429.3 631.7 420.5 635.8 416 640C411.5 644.2 406.7 650 405 655C403.3 660 404.2 665.5 406 670C407.8 674.5 414.3 680 416 682" fill="none" stroke="#2b2418" stroke-width="1.4" stroke-linecap="round"/>
<path d="M424 630C421.5 632 413.2 637.5 409 642C404.8 646.5 400.5 652 399 657C397.5 662 398.5 667.5 400 672C401.5 676.5 406.7 682 408 684" fill="none" stroke="#2b2418" stroke-width="1.3" stroke-linecap="round"/>
<clipPath id="cdc"><path d="M375 699C378.3 696 391.7 695.7 405 693C418.3 690.3 437.2 687.2 455 683C472.8 678.8 495.3 672.2 512 668C528.7 663.8 539.5 661.7 555 658C570.5 654.3 588.3 650.2 605 646C621.7 641.8 639.2 638.7 655 633C670.8 627.3 686.3 619.2 700 612C713.7 604.8 727 594.7 737 590C747 585.3 752.8 585.2 760 584C767.2 582.8 773.2 583.5 780 583C786.8 582.5 794.4 580.2 801 581C807.6 581.8 814.1 584.2 819.6 587.7C825.1 591.2 830.2 596.8 833.7 601.8C837.2 606.8 839.4 612 840.8 617.4C842.2 622.8 842.7 628.1 842 634C841.3 639.9 839.4 647.1 836.6 652.8C833.8 658.5 829.8 663.5 825 668C820.2 672.5 813.2 676.8 808 679.6C802.8 682.4 798.7 683.6 794 685C789.3 686.4 785.7 686.5 780 688C774.3 689.5 770.8 691.2 760 694C749.2 696.8 730.8 702 715 705C699.2 708 680.8 710.2 665 712C649.2 713.8 634.2 714.8 620 716C605.8 717.2 599.2 718.8 580 719C560.8 719.2 528 718 505 717C482 716 462 714 442 713C422 712 396.2 713.3 385 711C373.8 708.7 371.7 702 375 699Z"/></clipPath>
<path d="M375 699C378.3 696 391.7 695.7 405 693C418.3 690.3 437.2 687.2 455 683C472.8 678.8 495.3 672.2 512 668C528.7 663.8 539.5 661.7 555 658C570.5 654.3 588.3 650.2 605 646C621.7 641.8 639.2 638.7 655 633C670.8 627.3 686.3 619.2 700 612C713.7 604.8 727 594.7 737 590C747 585.3 752.8 585.2 760 584C767.2 582.8 773.2 583.5 780 583C786.8 582.5 794.4 580.2 801 581C807.6 581.8 814.1 584.2 819.6 587.7C825.1 591.2 830.2 596.8 833.7 601.8C837.2 606.8 839.4 612 840.8 617.4C842.2 622.8 842.7 628.1 842 634C841.3 639.9 839.4 647.1 836.6 652.8C833.8 658.5 829.8 663.5 825 668C820.2 672.5 813.2 676.8 808 679.6C802.8 682.4 798.7 683.6 794 685C789.3 686.4 785.7 686.5 780 688C774.3 689.5 770.8 691.2 760 694C749.2 696.8 730.8 702 715 705C699.2 708 680.8 710.2 665 712C649.2 713.8 634.2 714.8 620 716C605.8 717.2 599.2 718.8 580 719C560.8 719.2 528 718 505 717C482 716 462 714 442 713C422 712 396.2 713.3 385 711C373.8 708.7 371.7 702 375 699Z" fill="#f6efba"/>
<g clip-path="url(#cdc)">
<path d="M400 697C411.7 695.2 450 689.8 470 686C490 682.2 503.3 678 520 674C536.7 670 553.3 666 570 662C586.7 658 603.3 654.7 620 650C636.7 645.3 654.2 640.3 670 634C685.8 627.7 702.5 618.7 715 612C727.5 605.3 740 597 745 594" fill="none" stroke="#c08a40" stroke-width="8" filter="url(#b1)" opacity="0.85"/>
<path d="M400 708C406.7 708.3 422.5 709 440 710C457.5 711 481.7 713 505 714C528.3 715 560.8 716.2 580 716C599.2 715.8 605.8 714.2 620 713C634.2 711.8 649.2 711 665 709C680.8 707 699.2 704.2 715 701C730.8 697.8 747.5 693.2 760 690C772.5 686.8 785 683.3 790 682" fill="none" stroke="#c08a3c" stroke-width="6" filter="url(#b1)" opacity="0.75"/>
<path d="M420 705C425 705.5 440 707.3 450 708C460 708.7 468.3 708.3 480 709C491.7 709.7 513.3 711.5 520 712" fill="none" stroke="#b97c34" stroke-width="6" filter="url(#b1)" opacity="0.8"/>
<path d="M600 711C606.7 710.3 626.7 708.7 640 707C653.3 705.3 666.7 703 680 701C693.3 699 706.7 697.5 720 695C733.3 692.5 753.3 687.5 760 686" fill="none" stroke="#b97c34" stroke-width="7" filter="url(#b1)" opacity="0.8"/>
<path d="M560 712C566.7 711.3 586.7 709.3 600 708C613.3 706.7 626.7 705.7 640 704C653.3 702.3 673.3 699 680 698" fill="none" stroke="#c48e40" stroke-width="7" filter="url(#b2)" opacity="0.7"/>
<path d="M676 672C677.3 673.7 683.3 679 684 682C684.7 685 679.3 687 680 690C680.7 693 686.7 698.3 688 700" fill="none" stroke="#c08a3c" stroke-width="4.5" filter="url(#b0)" opacity="0.85"/>
<path d="M720 640C724.2 632 748.3 622.5 760 620C771.7 617.5 783.3 620 790 625C796.7 630 803.3 642.2 800 650C796.7 657.8 780.8 669 770 672C759.2 675 743.3 673.3 735 668C726.7 662.7 715.8 648 720 640Z" fill="#f8f3c6" filter="url(#b3)"/>
<path d="M752 596C753.7 594.5 768.3 599.3 775 603C781.7 606.7 790.5 614.3 792 618C793.5 621.7 788.5 626 784 625C779.5 624 770.3 616.8 765 612C759.7 607.2 750.3 597.5 752 596Z" fill="#c9944a" filter="url(#b1)" opacity="0.8"/>
<path d="M762 676C767 671.3 791.7 663.3 800 662C808.3 660.7 813.7 664.3 812 668C810.3 671.7 797 680.3 790 684C783 687.7 774.7 691.3 770 690C765.3 688.7 757 680.7 762 676Z" fill="#b87e3a" filter="url(#b1)" opacity="0.9"/>
<path d="M735 600C738.3 600.3 748.8 608.7 750 612C751.2 615.3 745.3 620.3 742 620C738.7 619.7 731.2 613.3 730 610C728.8 606.7 731.7 599.7 735 600Z" fill="#d3a456" filter="url(#b1)" opacity="0.7"/>
<path d="M712 664C715.8 666.3 728.3 674 735 678C741.7 682 749.2 686.3 752 688" fill="none" stroke="#ffffff" stroke-width="4" filter="url(#b0)"/>
</g>
<path d="M375 699C380 698 391.7 695.7 405 693C418.3 690.3 437.2 687.2 455 683C472.8 678.8 495.3 672.2 512 668C528.7 663.8 539.5 661.7 555 658C570.5 654.3 588.3 650.2 605 646C621.7 641.8 639.2 638.7 655 633C670.8 627.3 686.3 619.2 700 612C713.7 604.8 727 594.7 737 590C747 585.3 752.8 585.2 760 584C767.2 582.8 773.2 583.5 780 583C786.8 582.5 794.4 580.2 801 581C807.6 581.8 814.1 584.2 819.6 587.7C825.1 591.2 830.2 596.8 833.7 601.8C837.2 606.8 839.4 612 840.8 617.4C842.2 622.8 842.7 628.1 842 634C841.3 639.9 839.4 647.1 836.6 652.8C833.8 658.5 829.8 663.5 825 668C820.2 672.5 813.2 676.8 808 679.6C802.8 682.4 798.7 683.6 794 685C789.3 686.4 785.7 686.5 780 688C774.3 689.5 763.3 693 760 694" fill="none" stroke="#2b2418" stroke-width="1.7" stroke-linecap="round"/>
<path d="M760 694C752.5 695.8 730.8 702 715 705C699.2 708 680.8 710.2 665 712C649.2 713.8 634.2 714.8 620 716C605.8 717.2 599.2 718.8 580 719C560.8 719.2 528 718 505 717C482 716 462 714 442 713C422 712 396.2 713.3 385 711C373.8 708.7 376.7 701 375 699" fill="none" stroke="#2b2418" stroke-width="1.3" stroke-linecap="round"/>
<path d="M770 560C780 552.8 792.5 545.8 800 545C807.5 544.2 815 550 815 555C815 560 807.5 570.5 800 575C792.5 579.5 780 579.8 770 582C760 584.2 740 591.7 740 588C740 584.3 760 567.2 770 560Z" fill="#b07a3c" filter="url(#b1)" opacity="0.9"/>
<path d="M380 714C388.3 715.4 413.3 720 430 722.5C446.7 725 463.3 727.2 480 729C496.7 730.8 511.3 731.8 530 733.5C548.7 735.2 573.7 738.2 592 739C610.3 739.8 623.7 738.8 640 738C656.3 737.2 673.3 735.7 690 734C706.7 732.3 723.3 730.3 740 728C756.7 725.7 773.3 723.5 790 720C806.7 716.5 831.7 709.2 840 707" fill="none" stroke="#2b2418" stroke-width="1.2" stroke-linecap="round"/>
<path d="M830.3 596.1A32 32 0 0 1 853.9 624.2" fill="none" stroke="#8a4a22" stroke-width="1.6" stroke-linecap="round" opacity="0.85"/>
<path d="M829.9 589.8A38 38 0 0 1 860 627" fill="none" stroke="#8a4a22" stroke-width="1.5" stroke-linecap="round" opacity="0.85"/>
<path d="M829.8 582.7A45 45 0 0 1 866.8 630.9" fill="none" stroke="#6e3a1a" stroke-width="1.4" stroke-linecap="round" opacity="0.85"/>
<path d="M831 575.8A52 52 0 0 1 870.9 644.8" fill="none" stroke="#6e3a1a" stroke-width="1.3" stroke-linecap="round" opacity="0.85"/>
<path d="M842.2 571.6A59 59 0 0 1 867.2 664.9" fill="none" stroke="#3a2a18" stroke-width="1.3" stroke-linecap="round" opacity="0.85"/>
<path d="M864.4 576.4A66 66 0 0 1 859.9 681.1" fill="none" stroke="#3a2a18" stroke-width="1.2" stroke-linecap="round" opacity="0.85"/>
<path d="M891.5 601.7A74 74 0 0 1 841.2 698.5" fill="none" stroke="#3a2a18" stroke-width="1.2" stroke-linecap="round" opacity="0.85"/>
<path d="M850.2 637.3A30 30 0 0 1 832.3 655.2" fill="none" stroke="#3a2a18" stroke-width="1.2" stroke-linecap="round" opacity="0.85"/>
<path d="M854.8 649.9A40 40 0 0 1 828.9 666.4" fill="none" stroke="#3a2a18" stroke-width="1.2" stroke-linecap="round" opacity="0.85"/>
<path d="M907 624C905.8 628.3 903.7 642 900 650C896.3 658 891.7 665.3 885 672C878.3 678.7 868.2 685.3 860 690C851.8 694.7 840 698.3 836 700" fill="none" stroke="#2b2418" stroke-width="1.2" stroke-linecap="round"/>
<path d="M790 569C801 561.7 845 532.3 856 525" fill="none" stroke="#2b2418" stroke-width="1.1" stroke-linecap="round"/>
<path d="M780 521C790 521.3 830 522.7 840 523" fill="none" stroke="#8a7a6a" stroke-width="1.2" stroke-linecap="round"/>
<path d="M922 300C921.2 308.3 919.8 335.5 917 350C914.2 364.5 909.5 375.3 905 387C900.5 398.7 893.8 409.5 890 420C886.2 430.5 882.8 440 882 450C881.2 460 883.2 471.7 885 480C886.8 488.3 889.8 493.2 893 500C896.2 506.8 901.4 514 904.5 521C907.6 528 909.9 534.2 911.5 542C913.1 549.8 911.9 560.3 914 568C916.1 575.7 921.6 581 924 588C926.4 595 927.8 602.3 928.5 610C929.2 617.7 929.8 626.4 928.5 634C927.2 641.6 924.1 648.9 921 655.6C917.9 662.3 914.7 668.4 910 674C905.3 679.6 898.2 685.5 893 689.5C887.8 693.5 881.3 696.6 879 698" fill="none" stroke="#dfe7e2" stroke-width="3.2" stroke-linecap="round"/>
<path d="M922 300C921.2 308.3 919.8 335.5 917 350C914.2 364.5 909.5 375.3 905 387C900.5 398.7 893.8 409.5 890 420C886.2 430.5 882.8 440 882 450C881.2 460 883.2 471.7 885 480C886.8 488.3 889.8 493.2 893 500C896.2 506.8 901.4 514 904.5 521C907.6 528 909.9 534.2 911.5 542C913.1 549.8 911.9 560.3 914 568C916.1 575.7 921.6 581 924 588C926.4 595 927.8 602.3 928.5 610C929.2 617.7 929.8 626.4 928.5 634C927.2 641.6 924.1 648.9 921 655.6C917.9 662.3 914.7 668.4 910 674C905.3 679.6 898.2 685.5 893 689.5C887.8 693.5 881.3 696.6 879 698" fill="none" stroke="#2b2418" stroke-width="1.1" stroke-linecap="round"/>
<path d="M925.2 300.3C924.3 308.7 923 336 920.1 350.6C917.3 365.3 912.5 376.4 908 388.2C903.5 399.9 896.8 410.7 893 421.1C889.2 431.4 886 440.6 885.2 450.3C884.4 460 886.3 471.3 888.1 479.3C889.9 487.4 892.7 491.9 895.9 498.6C899.1 505.4 904.3 512.6 907.4 519.7C910.6 526.8 913 533.5 914.6 541.4C916.2 549.3 915 559.6 917.1 567.2C919.2 574.8 924.6 579.9 927 587C929.5 594 930.9 601.8 931.7 609.7C932.5 617.6 933 626.6 931.7 634.5C930.4 642.4 927.1 650 923.9 656.9C920.7 663.9 917.3 670.2 912.5 676C907.6 681.9 900.3 687.9 895 692C889.7 696.1 883 699.3 880.7 700.7" fill="none" stroke="#2b2418" stroke-width="1.0" stroke-linecap="round"/>
</g>
<path d="M372 642C369.8 644 363 650.3 359 654C355 657.7 352 660 348 664C344 668 338.8 673.5 335 678C331.2 682.5 328.2 686.8 325 691C321.8 695.2 318.3 699.7 316 703C313.7 706.3 311.8 709.7 311 711" fill="none" stroke="#2b2418" stroke-width="1.7" stroke-linecap="round"/>
<path d="M311 711C312.8 711.3 317.5 712.8 322 713C326.5 713.2 332.8 712.3 338 712C343.2 711.7 347.8 711 353 711C358.2 711 364.5 711.8 369 712C373.5 712.2 378.2 712 380 712" fill="none" stroke="#2b2418" stroke-width="1.5" stroke-linecap="round"/>
<path d="M348 664C346.8 666.7 343.7 675.2 341 680C338.3 684.8 333.5 690.8 332 693" fill="none" stroke="#2b2418" stroke-width="1.2" stroke-linecap="round"/>
<path d="M369 712C369.5 713.7 372 718.8 372 722C372 725.2 370.5 728.8 369 731C367.5 733.2 364 734.3 363 735" fill="none" stroke="#2b2418" stroke-width="1.3" stroke-linecap="round"/>
<path d="M294 722L297 730L306 733L300 726Z" fill="#a9c8ea"/>
<path d="M362 737L372 742L380 744L370 738Z" fill="#cfe0ee"/>
<path d="M600.5 64.5L765 64.5M603 126.5L814.5 126.5M603 192L725 192M603 253.5L724.5 253.5M947 52L1022 52M865.5 134L1022 134M877.5 212.5L1022 212.5M875.5 297L1017 297M504.5 341.5L586.5 341.5L586.5 518M478 459L478 625M313 517L313 679M372.7 511.5L372.7 668M903 598.5L1001 598.5M781 660L829 756L889.5 756M680.5 749.5L699 792L749.5 792M339 726L363 789L421 789" fill="none" stroke="#262626" stroke-width="2.5" stroke-linejoin="miter" filter="url(#bl)"/>
<g font-family="'Liberation Serif',serif" font-size="23" fill="#222" stroke="#222" stroke-width="0.35" text-anchor="middle" filter="url(#bl)"><text x="581" y="69.5">16</text><text x="581" y="138">15</text><text x="581" y="203">14</text><text x="581" y="258">13</text><text x="1031.5" y="58.5">1</text><text x="1031.5" y="138">2</text><text x="1031.5" y="216.5">3</text><text x="1031.5" y="303">4</text><text x="479.5" y="353">12</text><text x="479.5" y="453">11</text><text x="308" y="502.5">9</text><text x="378.5" y="502.5">10</text><text x="1009" y="607.5">5</text><text x="910" y="772">6</text><text x="755" y="804">7</text><text x="443.5" y="804">8</text></g></g>
</svg>

<div id="legend">
<p class="ln" style="top:870.7px">
<span id="t0_0" class="a" style="left:128.2px">1<i>.</i><b>(</b></span>
<span id="t0_1" class="c" style="left:196.5px">被</span>
<span id="t0_2" class="a" style="left:245.6px">)</span>
<span id="t0_3" class="c" style="left:269.0px">毛</span>
<span id="t0_4" class="c" style="left:301.5px">（</span>
<span id="t0_5" class="a" style="left:340.0px">wool</span>
<span id="t0_6" class="c" style="left:418.0px">）</span>
<span id="t0_7" class="a" style="left:500.7px">2<i>.</i></span>
<span id="t0_8" class="c" style="left:538.0px;letter-spacing:1.5px">悬韧带</span>
<span id="t0_9" class="a" style="left:645.6px">(</span>
<span id="t0_10" class="a" style="left:680.7px">suspensory</span>
<span id="t0_11" class="a" style="left:868.5px">ligament)</span>
<span id="t0_12" class="a" style="left:1114.2px">3<i>.</i></span>
<span id="t0_13" class="c" style="left:1171.0px">指</span>
<span id="t0_14" class="c" style="left:1201.5px">（</span>
<span id="t0_15" class="c" style="left:1238.5px">趾</span>
<span id="t0_16" class="c" style="left:1279.0px">）</span>
<span id="t0_17" class="c" style="left:1312.5px;letter-spacing:1.75px">深屈肌</span>
</p>
<p class="ln" style="top:938.7px">
<span id="t1_0" class="a" style="left:126.6px">(toe</span>
<span id="t1_1" class="a" style="left:209.2px">flexor</span>
<span id="t1_2" class="a" style="left:329.2px">profundus)</span>
<span id="t1_3" class="a" style="left:591.6px">4<i>.</i></span>
<span id="t1_4" class="c" style="left:645.0px">指</span>
<span id="t1_5" class="c" style="left:675.5px">（</span>
<span id="t1_6" class="c" style="left:712.5px">趾</span>
<span id="t1_7" class="c" style="left:753.0px">）</span>
<span id="t1_8" class="c" style="left:782.0px">浅屈肌</span>
<span id="t1_9" class="a" style="left:886.6px">(toe</span>
<span id="t1_10" class="a" style="left:971.7px">superficial</span>
<span id="t1_11" class="a" style="left:1176.7px">flexor)</span>
<span id="t1_12" class="a" style="left:1384.2px">5<i>.</i></span>
</p>
<p class="ln" style="top:1006.7px">
<span id="t2_0" class="c" style="left:125.0px">皮</span>
<span id="t2_1" class="c" style="left:173.0px">下</span>
<span id="t2_2" class="c" style="left:220.0px">垫</span>
<span id="t2_3" class="a" style="left:296.6px">(subcutaneous</span>
<span id="t2_4" class="a" style="left:548.2px">cushion)</span>
<span id="t2_5" class="a" style="left:809.2px">6<i>.</i></span>
<span id="t2_6" class="c" style="left:877.5px">指</span>
<span id="t2_7" class="c" style="left:919.0px">（</span>
<span id="t2_8" class="c" style="left:971.0px">趾</span>
<span id="t2_9" class="c" style="left:1019.0px">）</span>
<span id="t2_10" class="c" style="left:1065.0px">枕</span>
<span id="t2_11" class="c" style="left:1111.0px">脂</span>
<span id="t2_12" class="c" style="left:1158.5px">肪</span>
<span id="t2_13" class="c" style="left:1205.0px">垫</span>
<span id="t2_14" class="a" style="left:1282.6px">(digital</span>
</p>
<p class="ln" style="top:1074.7px">
<span id="t3_0" class="a" style="left:124.2px">cushion)</span>
<span id="t3_1" class="a" style="left:333.2px">7<i>.</i></span>
<span id="t3_2" class="c" style="left:369.0px;letter-spacing:1.3px">蹄角质垫</span>
<span id="t3_3" class="a" style="left:511.6px">(sole</span>
<span id="t3_4" class="a" style="left:613.2px">pad)</span>
<span id="t3_5" class="a" style="left:753.2px">8<i>.</i></span>
<span id="t3_6" class="c" style="left:791.0px;letter-spacing:1.5px">指甲底</span>
<span id="t3_7" class="a" style="left:896.6px">(nail</span>
<span id="t3_8" class="a" style="left:997.7px">bottom)</span>
<span id="t3_9" class="a" style="left:1189.2px">9<i>.</i></span>
<span id="t3_10" class="c" style="left:1242.5px">蹄</span>
<span id="t3_11" class="c" style="left:1276.5px">（</span>
<span id="t3_12" class="c" style="left:1316.0px;letter-spacing:2px">指甲</span>
<span id="t3_13" class="c" style="left:1386.5px">）</span>
</p>
<p class="ln" style="top:1142.7px">
<span id="t4_0" class="a" style="left:126.6px">(nail)</span>
<span id="t4_1" class="a" style="left:285.7px">10<i>.</i></span>
<span id="t4_2" class="c" style="left:358.0px;letter-spacing:4px">第一指</span>
<span id="t4_3" class="c" style="left:468.0px">（</span>
<span id="t4_4" class="c" style="left:506.0px">趾</span>
<span id="t4_5" class="c" style="left:545.5px">）</span>
<span id="t4_6" class="c" style="left:584.0px;letter-spacing:2.5px">节骨</span>
<span id="t4_7" class="a" style="left:678.1px">(distal</span>
<span id="t4_8" class="a" style="left:816.2px">phalanx)</span>
<span id="t4_9" class="a" style="left:1051.7px">11<i>.</i></span>
<span id="t4_10" class="c" style="left:1124.0px;letter-spacing:4px">第二指</span>
<span id="t4_11" class="c" style="left:1231.5px">（</span>
<span id="t4_12" class="c" style="left:1271.0px">趾</span>
<span id="t4_13" class="c" style="left:1310.0px">）</span>
<span id="t4_14" class="c" style="left:1347.5px;letter-spacing:3px">节骨</span>
</p>
<p class="ln" style="top:1210.7px">
<span id="t5_0" class="a" style="left:126.6px">(middle</span>
<span id="t5_1" class="a" style="left:263.2px">phalanx)</span>
<span id="t5_2" class="a" style="left:455.7px">12<i>.</i></span>
<span id="t5_3" class="c" style="left:529.0px;letter-spacing:3.5px">第三指</span>
<span id="t5_4" class="c" style="left:638.0px">（</span>
<span id="t5_5" class="c" style="left:675.0px">趾</span>
<span id="t5_6" class="c" style="left:715.5px">）</span>
<span id="t5_7" class="c" style="left:746.5px;letter-spacing:3px">节骨</span>
<span id="t5_8" class="a" style="left:839.6px">(proximal</span>
<span id="t5_9" class="a" style="left:1010.2px">phalanx)</span>
<span id="t5_10" class="a" style="left:1204.2px">13<i>.</i></span>
<span id="t5_11" class="c" style="left:1276.0px;letter-spacing:2.3px">趾长伸肌</span>
</p>
<p class="ln" style="top:1278.7px">
<span id="t6_0" class="c" style="left:115.5px">（</span>
<span id="t6_1" class="c" style="left:162.5px;letter-spacing:2.7px">指总伸肌</span>
<span id="t6_2" class="c" style="left:308.0px">）</span>
<span id="t6_3" class="a" style="left:344.1px">(extensor</span>
<span id="t6_4" class="a" style="left:515.7px">digitorum</span>
<span id="t6_5" class="a" style="left:689.2px">communis</span>
<span id="t6_6" class="a" style="left:845.6px">muscle)</span>
<span id="t6_7" class="a" style="left:1059.2px">14<i>.</i></span>
<span id="t6_8" class="c" style="left:1130.0px;letter-spacing:2px">第四</span>
<span id="t6_9" class="c" style="left:1199.0px">（</span>
<span id="t6_10" class="c" style="left:1238.5px">指</span>
<span id="t6_11" class="c" style="left:1276.5px">）</span>
<span id="t6_12" class="c" style="left:1313.5px;letter-spacing:1.75px">趾伸肌</span>
</p>
<p class="ln" style="top:1346.7px">
<span id="t7_0" class="a" style="left:126.6px">(fourth</span>
<span id="t7_1" class="a" style="left:265.7px">extensor</span>
<span id="t7_2" class="a" style="left:423.2px">digitorum</span>
<span id="t7_3" class="a" style="left:599.1px">muscle)</span>
<span id="t7_4" class="a" style="left:819.7px">15<i>.</i></span>
<span id="t7_5" class="c" style="left:894.0px">掌</span>
<span id="t7_6" class="c" style="left:937.5px">骨</span>
<span id="t7_7" class="c" style="left:965.0px">（</span>
<span id="t7_8" class="c" style="left:1008.5px">跖</span>
<span id="t7_9" class="c" style="left:1051.0px">骨</span>
<span id="t7_10" class="c" style="left:1086.5px">）</span>
<span id="t7_11" class="a" style="left:1124.1px">(metacarpal</span>
<span id="t7_12" class="a" style="left:1331.7px">bone)</span>
</p>
<p class="ln" style="top:1414.7px">
<span id="t8_0" class="a" style="left:195.7px">16<i>.</i></span>
<span id="t8_1" class="c" style="left:264.0px;letter-spacing:1px">皮肤</span>
<span id="t8_2" class="a" style="left:350.6px">(skin)</span>
</p>
</div>
</body>
</html>
